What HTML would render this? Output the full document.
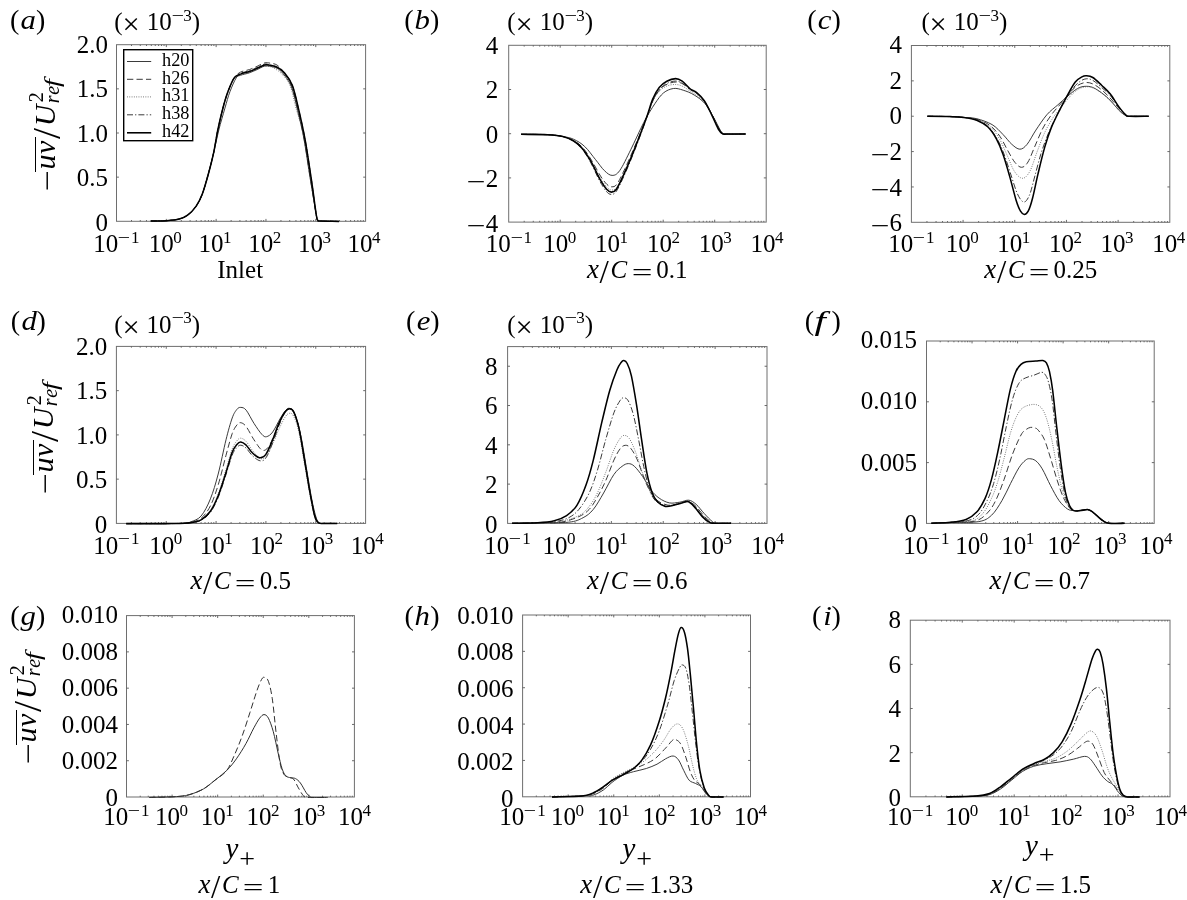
<!DOCTYPE html>
<html><head><meta charset="utf-8"><title>figure</title><style>
html,body{margin:0;padding:0;background:#fff}
body{width:1187px;height:900px;position:relative;overflow:hidden;font-family:"Liberation Serif",serif;color:#000}
svg{position:absolute;left:0;top:0}
#tx{position:absolute;left:0;top:0;width:1187px;height:900px;will-change:transform}
.t{position:absolute;white-space:nowrap;font-family:"Liberation Serif",serif}
.t i{font-style:italic}
.sp{font-size:17px;position:relative;top:-9.3px;line-height:0;margin-left:-0.5px}
.sm{display:inline-block;transform:scaleX(1.3);transform-origin:50% 50%;margin-left:1.4px}
.mn{display:inline-block;transform:scaleX(1.34);transform-origin:50% 50%;margin:0 2.7px 0 1.0px;position:relative;top:2.7px}
.tx{display:inline-block;transform:scale(1.22);transform-origin:50% 62%;margin:0 8.4px 0 1.6px;position:relative;top:3px}
.pl i{display:inline-block;transform:scaleX(1.1);transform-origin:100% 50%;margin:0 -0.1px 0 2.6px}
.pl-f i{transform:scaleX(1.45);transform-origin:5.66px 50%;margin:0 6.7px 0 3.05px}
.xx{font-size:27px;line-height:0;margin-left:0.3px}
.sl{font-size:33.5px;line-height:0;position:relative;top:5px;margin-left:0.6px}
.cc{margin-left:1.7px}
.eq{display:inline-block;transform:translateY(3.2px) scaleX(1.47);transform-origin:50% 50%;margin-left:7.4px;line-height:0}
.vv{margin-left:7.5px}
.yy{font-size:29px;line-height:0}
.pls{font-size:28px;line-height:0;position:relative;top:9.1px;margin-left:0.9px}
.yl{transform:rotate(-90deg);transform-origin:0 0}
.ymn{display:inline-block;transform:scaleX(1.27);transform-origin:50% 50%;position:relative;top:1.8px;margin-left:0.6px;margin-right:0.6px}
.ol{display:inline-block;width:34.6px;height:0;border-top:1.8px solid #000;vertical-align:19.5px;margin-right:-32.9px}
.uv{letter-spacing:0.3px;margin-left:0.8px}
.ysl{font-size:39.8px;line-height:0;position:relative;top:5.4px;margin-left:1.6px}
.UU{margin-left:1.5px}
.s2{font-size:20px;line-height:0;position:relative;top:-12px;margin-left:2.4px}
.sr{font-size:20px;line-height:0;position:relative;top:4px;margin-left:-10.9px}
.e1{margin-left:0.6px}
.f1{display:inline-block;transform:scaleX(1.4);transform-origin:0 50%;margin-left:-0.9px}
</style></head><body>
<svg width="1187" height="900" viewBox="0 0 1187 900">
<g>
<rect x="116.50" y="44.70" width="249.10" height="176.60" fill="none" stroke="#6e6e6e" stroke-width="1"/>
<path d="M131.50 221.30v-1.3M131.50 44.70v1.3M140.27 221.30v-1.3M140.27 44.70v1.3M146.49 221.30v-1.3M146.49 44.70v1.3M151.32 221.30v-1.3M151.32 44.70v1.3M155.27 221.30v-1.3M155.27 44.70v1.3M158.60 221.30v-1.3M158.60 44.70v1.3M161.49 221.30v-1.3M161.49 44.70v1.3M164.04 221.30v-1.3M164.04 44.70v1.3M166.32 221.30v-2.4M166.32 44.70v2.4M181.32 221.30v-1.3M181.32 44.70v1.3M190.09 221.30v-1.3M190.09 44.70v1.3M196.31 221.30v-1.3M196.31 44.70v1.3M201.14 221.30v-1.3M201.14 44.70v1.3M205.09 221.30v-1.3M205.09 44.70v1.3M208.42 221.30v-1.3M208.42 44.70v1.3M211.31 221.30v-1.3M211.31 44.70v1.3M213.86 221.30v-1.3M213.86 44.70v1.3M216.14 221.30v-2.4M216.14 44.70v2.4M231.14 221.30v-1.3M231.14 44.70v1.3M239.91 221.30v-1.3M239.91 44.70v1.3M246.13 221.30v-1.3M246.13 44.70v1.3M250.96 221.30v-1.3M250.96 44.70v1.3M254.91 221.30v-1.3M254.91 44.70v1.3M258.24 221.30v-1.3M258.24 44.70v1.3M261.13 221.30v-1.3M261.13 44.70v1.3M263.68 221.30v-1.3M263.68 44.70v1.3M265.96 221.30v-2.4M265.96 44.70v2.4M280.96 221.30v-1.3M280.96 44.70v1.3M289.73 221.30v-1.3M289.73 44.70v1.3M295.95 221.30v-1.3M295.95 44.70v1.3M300.78 221.30v-1.3M300.78 44.70v1.3M304.73 221.30v-1.3M304.73 44.70v1.3M308.06 221.30v-1.3M308.06 44.70v1.3M310.95 221.30v-1.3M310.95 44.70v1.3M313.50 221.30v-1.3M313.50 44.70v1.3M315.78 221.30v-2.4M315.78 44.70v2.4M330.78 221.30v-1.3M330.78 44.70v1.3M339.55 221.30v-1.3M339.55 44.70v1.3M345.77 221.30v-1.3M345.77 44.70v1.3M350.60 221.30v-1.3M350.60 44.70v1.3M354.55 221.30v-1.3M354.55 44.70v1.3M357.88 221.30v-1.3M357.88 44.70v1.3M360.77 221.30v-1.3M360.77 44.70v1.3M363.32 221.30v-1.3M363.32 44.70v1.3M116.50 177.15h2.4M365.60 177.15h-2.4M116.50 133.00h2.4M365.60 133.00h-2.4M116.50 88.85h2.4M365.60 88.85h-2.4" stroke="#5a5a5a" stroke-width="0.9" fill="none"/>
<path d="M150.8 221.1C153.4 221.0 161.8 221.0 166.5 220.7C171.2 220.3 175.7 219.9 179.2 219.0C182.7 218.1 184.8 217.3 187.6 215.2C190.4 213.1 193.5 210.0 196.0 206.4C198.5 202.8 200.3 199.3 202.4 193.7C204.5 188.1 206.8 179.7 208.7 172.7C210.6 165.7 212.2 158.7 213.9 151.6C215.6 144.5 217.0 137.2 218.8 130.0C220.6 122.8 223.1 114.6 224.9 108.2C226.8 101.8 228.0 96.8 229.9 91.8C231.8 86.8 234.4 80.7 236.2 77.9C238.0 75.2 238.3 76.2 240.5 75.3C242.7 74.4 246.7 73.8 249.4 72.8C252.2 71.8 254.5 70.7 257.0 69.6C259.5 68.5 262.3 66.6 264.6 66.1C266.9 65.6 268.8 66.1 270.9 66.5C273.0 66.9 275.2 67.2 277.2 68.4C279.2 69.6 280.8 70.7 283.1 73.7C285.5 76.7 288.9 80.4 291.3 86.6C293.7 92.8 295.6 102.0 297.7 110.8C299.8 119.6 301.9 127.8 304.0 139.2C306.1 150.6 308.2 166.6 310.3 179.2C312.4 191.8 315.1 208.2 316.3 215.0C317.6 221.8 317.1 219.2 317.8 220.2C318.5 221.2 316.8 220.9 320.3 221.1C323.8 221.3 335.9 221.3 339.0 221.4" fill="none" stroke="#303030" stroke-width="0.95" stroke-linejoin="round" stroke-linecap="butt"/>
<path d="M150.8 221.1C153.4 221.0 161.8 221.0 166.5 220.7C171.2 220.3 175.7 219.9 179.2 219.0C182.7 218.1 184.8 217.3 187.6 215.2C190.4 213.1 193.5 210.0 196.0 206.4C198.5 202.8 200.3 199.3 202.4 193.7C204.5 188.1 206.8 179.7 208.7 172.7C210.6 165.7 212.4 158.7 213.9 151.6C215.4 144.5 216.3 137.2 217.8 130.0C219.3 122.8 221.2 114.6 222.9 108.2C224.6 101.8 226.0 96.8 227.9 91.8C229.8 86.8 232.1 81.2 234.2 77.9C236.3 74.6 238.0 73.5 240.5 72.1C243.0 70.7 246.7 70.5 249.4 69.6C252.2 68.6 254.5 67.5 257.0 66.4C259.5 65.3 262.3 63.4 264.6 62.9C266.9 62.4 268.8 62.9 270.9 63.3C273.0 63.7 275.0 63.7 277.2 65.2C279.4 66.7 281.6 69.1 284.1 72.5C286.6 75.9 289.9 79.2 292.3 85.4C294.7 91.6 296.6 100.6 298.7 109.6C300.8 118.6 302.9 127.6 305.0 139.2C307.1 150.8 309.4 166.6 311.3 179.2C313.2 191.8 315.2 208.2 316.3 215.0C317.4 221.8 317.1 219.2 317.8 220.2C318.5 221.2 316.8 220.9 320.3 221.1C323.8 221.3 335.9 221.3 339.0 221.4" fill="none" stroke="#303030" stroke-width="0.95" stroke-dasharray="6.3 3.2" stroke-linejoin="round" stroke-linecap="butt"/>
<path d="M150.8 221.1C153.4 221.0 161.8 221.0 166.5 220.7C171.2 220.3 175.7 219.9 179.2 219.0C182.7 218.1 184.8 217.3 187.6 215.2C190.4 213.1 193.5 210.0 196.0 206.4C198.5 202.8 200.3 199.3 202.4 193.7C204.5 188.1 206.8 179.7 208.7 172.7C210.6 165.7 212.4 158.7 213.9 151.6C215.4 144.5 216.3 137.2 217.8 130.0C219.3 122.8 221.2 114.6 222.9 108.2C224.6 101.8 226.0 96.8 227.9 91.8C229.8 86.8 232.1 80.9 234.2 77.9C236.3 75.0 238.0 75.1 240.5 74.1C243.0 73.0 246.7 72.5 249.4 71.6C252.2 70.6 254.5 69.3 257.0 68.4C259.5 67.5 262.3 66.7 264.6 66.4C266.9 66.1 269.2 66.4 270.9 66.8C272.6 67.2 273.1 67.5 274.9 68.7C276.7 69.9 279.3 71.2 281.8 74.0C284.3 76.8 287.6 79.5 290.0 85.4C292.4 91.3 293.9 100.6 296.4 109.6C298.9 118.6 302.5 127.6 305.0 139.2C307.5 150.8 309.4 166.6 311.3 179.2C313.2 191.8 315.2 208.2 316.3 215.0C317.4 221.8 317.1 219.2 317.8 220.2C318.5 221.2 316.8 220.9 320.3 221.1C323.8 221.3 335.9 221.3 339.0 221.4" fill="none" stroke="#606060" stroke-width="0.9" stroke-dasharray="0.9 1.4" stroke-linejoin="round" stroke-linecap="butt"/>
<path d="M150.8 221.1C153.4 221.0 161.8 221.0 166.5 220.7C171.2 220.3 175.7 219.9 179.2 219.0C182.7 218.1 184.8 217.3 187.6 215.2C190.4 213.1 193.5 210.0 196.0 206.4C198.5 202.8 200.3 199.3 202.4 193.7C204.5 188.1 206.8 179.7 208.7 172.7C210.6 165.7 212.4 158.7 213.9 151.6C215.4 144.5 216.3 137.2 217.8 130.0C219.3 122.8 221.2 114.6 222.9 108.2C224.6 101.8 226.0 96.8 227.9 91.8C229.8 86.8 232.1 81.0 234.2 77.9C236.3 74.8 238.0 74.5 240.5 73.3C243.0 72.1 246.7 71.8 249.4 70.8C252.2 69.8 254.5 68.7 257.0 67.6C259.5 66.5 262.3 64.5 264.6 64.1C266.9 63.7 268.9 64.8 270.9 65.3C272.9 65.8 274.3 66.0 276.4 67.2C278.5 68.4 280.8 69.5 283.3 72.5C285.8 75.5 289.1 79.2 291.5 85.4C293.9 91.6 295.8 100.6 297.9 109.6C300.0 118.6 302.1 127.6 304.2 139.2C306.3 150.8 308.5 166.6 310.5 179.2C312.5 191.8 315.1 208.2 316.3 215.0C317.5 221.8 317.1 219.2 317.8 220.2C318.5 221.2 316.8 220.9 320.3 221.1C323.8 221.3 335.9 221.3 339.0 221.4" fill="none" stroke="#303030" stroke-width="0.95" stroke-dasharray="6 2.1 1.2 2.1" stroke-linejoin="round" stroke-linecap="butt"/>
<path d="M150.8 221.1C153.4 221.0 161.8 221.0 166.5 220.7C171.2 220.3 175.7 219.9 179.2 219.0C182.7 218.1 184.8 217.3 187.6 215.2C190.4 213.1 193.5 210.0 196.0 206.4C198.5 202.8 200.3 199.3 202.4 193.7C204.5 188.1 206.8 179.7 208.7 172.7C210.6 165.7 212.4 158.7 213.9 151.6C215.4 144.5 216.3 137.2 217.8 130.0C219.3 122.8 221.2 114.6 222.9 108.2C224.6 101.8 226.0 96.8 227.9 91.8C229.8 86.8 232.1 80.9 234.2 77.9C236.3 75.0 238.0 75.1 240.5 74.1C243.0 73.0 246.7 72.5 249.4 71.6C252.2 70.6 254.5 69.5 257.0 68.4C259.5 67.3 262.3 65.4 264.6 64.9C266.9 64.4 268.8 64.9 270.9 65.3C273.0 65.7 275.0 66.0 277.2 67.2C279.4 68.4 281.6 69.5 284.1 72.5C286.6 75.5 289.9 79.2 292.3 85.4C294.7 91.6 296.6 100.6 298.7 109.6C300.8 118.6 302.9 127.6 305.0 139.2C307.1 150.8 309.4 166.6 311.3 179.2C313.2 191.8 315.2 208.2 316.3 215.0C317.4 221.8 317.1 219.2 317.8 220.2C318.5 221.2 316.8 220.9 320.3 221.1C323.8 221.3 335.9 221.3 339.0 221.4" fill="none" stroke="#000" stroke-width="1.55" stroke-linejoin="round" stroke-linecap="butt"/>
</g>
<g>
<rect x="508.70" y="45.30" width="257.50" height="176.80" fill="none" stroke="#6e6e6e" stroke-width="1"/>
<path d="M524.20 222.10v-1.3M524.20 45.30v1.3M533.27 222.10v-1.3M533.27 45.30v1.3M539.71 222.10v-1.3M539.71 45.30v1.3M544.70 222.10v-1.3M544.70 45.30v1.3M548.77 222.10v-1.3M548.77 45.30v1.3M552.22 222.10v-1.3M552.22 45.30v1.3M555.21 222.10v-1.3M555.21 45.30v1.3M557.84 222.10v-1.3M557.84 45.30v1.3M560.20 222.10v-2.4M560.20 45.30v2.4M575.70 222.10v-1.3M575.70 45.30v1.3M584.77 222.10v-1.3M584.77 45.30v1.3M591.21 222.10v-1.3M591.21 45.30v1.3M596.20 222.10v-1.3M596.20 45.30v1.3M600.27 222.10v-1.3M600.27 45.30v1.3M603.72 222.10v-1.3M603.72 45.30v1.3M606.71 222.10v-1.3M606.71 45.30v1.3M609.34 222.10v-1.3M609.34 45.30v1.3M611.70 222.10v-2.4M611.70 45.30v2.4M627.20 222.10v-1.3M627.20 45.30v1.3M636.27 222.10v-1.3M636.27 45.30v1.3M642.71 222.10v-1.3M642.71 45.30v1.3M647.70 222.10v-1.3M647.70 45.30v1.3M651.77 222.10v-1.3M651.77 45.30v1.3M655.22 222.10v-1.3M655.22 45.30v1.3M658.21 222.10v-1.3M658.21 45.30v1.3M660.84 222.10v-1.3M660.84 45.30v1.3M663.20 222.10v-2.4M663.20 45.30v2.4M678.70 222.10v-1.3M678.70 45.30v1.3M687.77 222.10v-1.3M687.77 45.30v1.3M694.21 222.10v-1.3M694.21 45.30v1.3M699.20 222.10v-1.3M699.20 45.30v1.3M703.27 222.10v-1.3M703.27 45.30v1.3M706.72 222.10v-1.3M706.72 45.30v1.3M709.71 222.10v-1.3M709.71 45.30v1.3M712.34 222.10v-1.3M712.34 45.30v1.3M714.70 222.10v-2.4M714.70 45.30v2.4M730.20 222.10v-1.3M730.20 45.30v1.3M739.27 222.10v-1.3M739.27 45.30v1.3M745.71 222.10v-1.3M745.71 45.30v1.3M750.70 222.10v-1.3M750.70 45.30v1.3M754.77 222.10v-1.3M754.77 45.30v1.3M758.22 222.10v-1.3M758.22 45.30v1.3M761.21 222.10v-1.3M761.21 45.30v1.3M763.84 222.10v-1.3M763.84 45.30v1.3M508.70 177.90h2.4M766.20 177.90h-2.4M508.70 133.70h2.4M766.20 133.70h-2.4M508.70 89.50h2.4M766.20 89.50h-2.4" stroke="#5a5a5a" stroke-width="0.9" fill="none"/>
<path d="M521.1 134.3C525.5 134.4 540.5 134.3 547.4 134.7C554.3 135.1 558.4 135.7 562.8 136.5C567.2 137.3 570.1 137.6 573.7 139.3C577.4 141.0 581.1 143.1 584.7 146.5C588.4 149.9 592.3 155.7 595.6 159.7C598.9 163.7 601.6 168.0 604.4 170.6C607.1 173.2 609.5 175.4 612.1 175.4C614.7 175.4 616.6 174.9 619.7 170.6C622.8 166.3 626.7 157.8 630.7 149.8C634.7 141.8 639.8 130.1 643.8 122.4C647.8 114.7 651.5 108.7 654.8 103.8C658.1 98.9 660.4 95.5 663.5 92.9C666.6 90.4 670.1 89.0 673.4 88.5C676.7 88.0 679.7 89.1 683.2 90.2C686.7 91.3 690.5 92.7 694.2 95.0C697.9 97.3 701.9 100.0 705.2 103.8C708.5 107.6 711.2 113.2 713.9 118.0C716.6 122.8 719.7 129.6 721.6 132.3C723.5 135.0 721.5 133.7 725.5 134.0C729.5 134.3 742.3 134.0 745.7 134.0" fill="none" stroke="#303030" stroke-width="0.95" stroke-linejoin="round" stroke-linecap="butt"/>
<path d="M521.1 134.3C525.5 134.4 540.5 134.3 547.4 134.7C554.3 135.1 558.4 135.5 562.8 136.5C567.2 137.5 570.3 138.7 573.7 140.6C577.1 142.5 580.0 144.6 583.0 148.0C586.0 151.4 589.1 156.3 592.0 161.0C594.9 165.7 598.0 172.1 600.5 176.0C603.0 179.9 605.1 182.7 607.0 184.5C608.9 186.3 610.1 186.9 611.8 186.8C613.5 186.7 614.8 187.1 617.0 184.0C619.2 180.9 621.8 175.2 625.0 168.5C628.2 161.8 632.4 152.0 636.0 143.5C639.6 135.0 643.6 124.8 646.5 117.5C649.4 110.2 651.2 104.3 653.5 99.5C655.8 94.7 658.1 91.4 660.5 88.8C662.9 86.2 665.4 84.9 668.0 83.8C670.6 82.7 673.5 82.0 676.0 82.0C678.5 82.0 680.6 82.7 683.0 84.0C685.4 85.3 688.1 88.1 690.5 89.8C692.9 91.5 695.1 92.0 697.5 94.0C699.9 96.0 702.5 98.3 705.0 102.0C707.5 105.7 710.1 111.3 712.5 116.0C714.9 120.7 717.6 127.0 719.5 130.0C721.4 133.0 719.6 133.3 724.0 134.0C728.4 134.7 742.1 134.0 745.7 134.0" fill="none" stroke="#303030" stroke-width="0.95" stroke-dasharray="6.3 3.2" stroke-linejoin="round" stroke-linecap="butt"/>
<path d="M521.1 134.3C525.5 134.4 540.5 134.3 547.4 134.7C554.3 135.1 558.4 135.5 562.8 136.5C567.2 137.5 570.4 138.8 573.7 140.8C577.0 142.8 579.8 145.0 582.8 148.5C585.8 152.0 588.7 156.9 591.6 161.8C594.5 166.7 597.7 173.8 600.2 178.0C602.7 182.2 604.9 185.2 606.8 187.2C608.7 189.2 609.9 190.0 611.6 190.0C613.3 190.0 614.6 190.3 616.8 187.2C619.0 184.1 621.5 178.4 624.6 171.5C627.7 164.6 632.0 154.3 635.6 145.5C639.2 136.7 643.4 126.0 646.3 118.5C649.2 111.0 650.9 105.2 653.2 100.5C655.5 95.8 657.6 93.0 660.0 90.5C662.4 88.0 664.9 86.8 667.5 85.8C670.1 84.8 673.2 84.4 675.8 84.5C678.4 84.6 680.5 85.3 683.0 86.5C685.5 87.7 688.1 90.0 690.5 91.5C692.9 93.0 695.0 93.7 697.5 95.8C700.0 97.9 702.8 100.3 705.5 104.0C708.2 107.7 711.0 113.5 713.5 118.0C716.0 122.5 718.6 128.3 720.5 131.0C722.4 133.7 720.6 133.5 724.8 134.0C729.0 134.5 742.2 134.0 745.7 134.0" fill="none" stroke="#606060" stroke-width="0.9" stroke-dasharray="0.9 1.4" stroke-linejoin="round" stroke-linecap="butt"/>
<path d="M521.1 134.3C525.5 134.4 540.5 134.3 547.4 134.7C554.3 135.1 558.4 135.4 562.8 136.5C567.1 137.6 570.3 139.1 573.5 141.2C576.7 143.3 579.3 145.6 582.2 149.2C585.1 152.8 587.9 157.5 590.8 162.8C593.7 168.1 597.0 176.1 599.6 180.8C602.2 185.5 604.3 188.9 606.2 191.2C608.1 193.5 609.5 194.4 611.2 194.4C612.9 194.4 614.3 194.3 616.4 191.2C618.5 188.1 620.9 182.9 624.0 176.0C627.1 169.1 631.4 158.8 635.0 149.5C638.6 140.2 642.9 128.6 645.8 120.5C648.7 112.4 650.3 106.2 652.6 101.0C654.9 95.8 657.0 92.5 659.4 89.6C661.8 86.7 664.3 84.8 667.0 83.4C669.7 82.0 673.0 81.0 675.6 81.0C678.2 81.0 680.0 81.8 682.4 83.2C684.8 84.6 687.6 87.7 690.0 89.4C692.4 91.1 694.3 91.1 696.8 93.2C699.3 95.3 702.1 97.9 704.8 101.8C707.5 105.7 710.4 111.7 713.0 116.5C715.6 121.3 718.2 127.6 720.2 130.5C722.2 133.4 720.5 133.4 724.8 134.0C729.0 134.6 742.2 134.0 745.7 134.0" fill="none" stroke="#303030" stroke-width="0.95" stroke-dasharray="6 2.1 1.2 2.1" stroke-linejoin="round" stroke-linecap="butt"/>
<path d="M521.1 134.3C525.5 134.4 540.5 134.3 547.4 134.7C554.3 135.1 558.4 135.4 562.8 136.5C567.2 137.6 570.4 139.0 573.7 141.0C577.0 143.0 579.6 145.2 582.5 148.7C585.4 152.2 588.3 156.8 591.2 161.9C594.1 167.0 597.4 174.9 600.0 179.4C602.6 183.9 604.7 187.1 606.6 189.2C608.5 191.3 609.8 192.1 611.4 192.1C613.0 192.1 614.3 192.2 616.4 189.2C618.5 186.2 621.0 180.8 624.1 173.9C627.2 167.0 631.5 156.7 635.1 147.6C638.8 138.5 643.1 127.1 646.0 119.1C648.9 111.1 650.4 104.7 652.6 99.4C654.8 94.1 656.8 90.4 659.2 87.4C661.6 84.4 664.1 82.7 666.8 81.2C669.5 79.7 673.0 78.6 675.6 78.6C678.2 78.6 679.8 79.5 682.2 81.2C684.6 82.9 687.4 86.6 689.8 88.5C692.2 90.4 694.0 90.4 696.4 92.4C698.8 94.4 701.5 96.8 704.1 100.5C706.7 104.2 709.3 110.0 711.7 114.8C714.1 119.5 716.5 125.8 718.3 129.0C720.1 132.2 721.2 133.0 722.7 133.8C724.2 134.6 723.2 134.0 727.0 134.0C730.8 134.0 742.6 134.0 745.7 134.0" fill="none" stroke="#000" stroke-width="1.55" stroke-linejoin="round" stroke-linecap="butt"/>
</g>
<g>
<rect x="911.40" y="45.50" width="258.40" height="176.80" fill="none" stroke="#6e6e6e" stroke-width="1"/>
<path d="M926.96 222.30v-1.3M926.96 45.50v1.3M936.06 222.30v-1.3M936.06 45.50v1.3M942.51 222.30v-1.3M942.51 45.50v1.3M947.52 222.30v-1.3M947.52 45.50v1.3M951.61 222.30v-1.3M951.61 45.50v1.3M955.07 222.30v-1.3M955.07 45.50v1.3M958.07 222.30v-1.3M958.07 45.50v1.3M960.72 222.30v-1.3M960.72 45.50v1.3M963.08 222.30v-2.4M963.08 45.50v2.4M978.64 222.30v-1.3M978.64 45.50v1.3M987.74 222.30v-1.3M987.74 45.50v1.3M994.19 222.30v-1.3M994.19 45.50v1.3M999.20 222.30v-1.3M999.20 45.50v1.3M1003.29 222.30v-1.3M1003.29 45.50v1.3M1006.75 222.30v-1.3M1006.75 45.50v1.3M1009.75 222.30v-1.3M1009.75 45.50v1.3M1012.40 222.30v-1.3M1012.40 45.50v1.3M1014.76 222.30v-2.4M1014.76 45.50v2.4M1030.32 222.30v-1.3M1030.32 45.50v1.3M1039.42 222.30v-1.3M1039.42 45.50v1.3M1045.87 222.30v-1.3M1045.87 45.50v1.3M1050.88 222.30v-1.3M1050.88 45.50v1.3M1054.97 222.30v-1.3M1054.97 45.50v1.3M1058.43 222.30v-1.3M1058.43 45.50v1.3M1061.43 222.30v-1.3M1061.43 45.50v1.3M1064.08 222.30v-1.3M1064.08 45.50v1.3M1066.44 222.30v-2.4M1066.44 45.50v2.4M1082.00 222.30v-1.3M1082.00 45.50v1.3M1091.10 222.30v-1.3M1091.10 45.50v1.3M1097.55 222.30v-1.3M1097.55 45.50v1.3M1102.56 222.30v-1.3M1102.56 45.50v1.3M1106.65 222.30v-1.3M1106.65 45.50v1.3M1110.11 222.30v-1.3M1110.11 45.50v1.3M1113.11 222.30v-1.3M1113.11 45.50v1.3M1115.76 222.30v-1.3M1115.76 45.50v1.3M1118.12 222.30v-2.4M1118.12 45.50v2.4M1133.68 222.30v-1.3M1133.68 45.50v1.3M1142.78 222.30v-1.3M1142.78 45.50v1.3M1149.23 222.30v-1.3M1149.23 45.50v1.3M1154.24 222.30v-1.3M1154.24 45.50v1.3M1158.33 222.30v-1.3M1158.33 45.50v1.3M1161.79 222.30v-1.3M1161.79 45.50v1.3M1164.79 222.30v-1.3M1164.79 45.50v1.3M1167.44 222.30v-1.3M1167.44 45.50v1.3M911.40 186.94h2.4M1169.80 186.94h-2.4M911.40 151.58h2.4M1169.80 151.58h-2.4M911.40 116.22h2.4M1169.80 116.22h-2.4M911.40 80.86h2.4M1169.80 80.86h-2.4" stroke="#5a5a5a" stroke-width="0.9" fill="none"/>
<path d="M927.4 116.3C931.2 116.3 944.0 116.4 950.0 116.6C956.0 116.8 959.1 117.1 963.6 117.4C968.1 117.8 972.0 117.5 976.7 118.7C981.5 119.9 987.7 122.0 992.1 124.6C996.5 127.2 999.7 131.2 1003.0 134.5C1006.3 137.8 1009.0 141.9 1011.8 144.3C1014.6 146.8 1017.4 149.2 1019.9 149.2C1022.4 149.2 1024.4 147.5 1027.1 144.3C1029.8 141.1 1032.6 135.0 1035.9 130.1C1039.2 125.2 1043.2 119.0 1046.8 114.8C1050.4 110.6 1054.5 107.8 1057.8 104.9C1061.1 102.0 1063.2 99.9 1066.5 97.2C1069.8 94.5 1074.2 90.3 1077.5 88.5C1080.8 86.7 1083.3 86.3 1086.2 86.3C1089.1 86.3 1091.3 86.5 1095.0 88.5C1098.7 90.5 1104.2 94.6 1108.2 98.3C1112.2 102.0 1116.2 107.5 1119.1 110.4C1122.0 113.3 1124.0 114.6 1125.7 115.6C1127.4 116.6 1125.7 116.2 1129.5 116.3C1133.3 116.4 1145.5 116.3 1148.7 116.3" fill="none" stroke="#303030" stroke-width="0.95" stroke-linejoin="round" stroke-linecap="butt"/>
<path d="M927.4 116.3C931.2 116.3 944.0 116.4 950.0 116.6C956.0 116.8 959.1 117.0 963.6 117.4C968.1 117.8 972.3 117.9 976.7 119.2C981.1 120.5 986.1 122.6 990.0 125.5C993.9 128.4 997.0 132.2 1000.0 136.5C1003.0 140.8 1005.5 146.7 1008.0 151.0C1010.5 155.3 1012.7 159.8 1015.0 162.5C1017.3 165.2 1019.4 167.4 1021.6 167.3C1023.8 167.2 1025.8 165.6 1028.0 162.0C1030.2 158.4 1032.5 151.7 1035.0 146.0C1037.5 140.3 1040.2 133.3 1043.0 128.0C1045.8 122.7 1049.0 118.1 1052.0 114.0C1055.0 109.9 1058.1 107.0 1061.0 103.5C1063.9 100.0 1066.8 96.0 1069.5 93.0C1072.2 90.0 1074.8 87.2 1077.5 85.5C1080.2 83.8 1083.2 82.7 1086.0 82.5C1088.8 82.3 1091.2 83.1 1094.0 84.5C1096.8 85.9 1100.2 88.6 1103.0 91.0C1105.8 93.4 1108.2 96.0 1111.0 99.0C1113.8 102.0 1117.0 106.3 1119.5 109.0C1122.0 111.7 1124.3 114.0 1126.0 115.2C1127.7 116.4 1125.7 116.1 1129.5 116.3C1133.3 116.5 1145.5 116.3 1148.7 116.3" fill="none" stroke="#303030" stroke-width="0.95" stroke-dasharray="6.3 3.2" stroke-linejoin="round" stroke-linecap="butt"/>
<path d="M927.4 116.3C931.2 116.3 944.0 116.4 950.0 116.6C956.0 116.8 959.1 116.9 963.6 117.4C968.1 117.9 972.4 118.1 976.7 119.5C981.0 120.9 985.8 122.9 989.5 126.0C993.2 129.1 996.1 133.2 999.0 138.0C1001.9 142.8 1004.4 149.4 1007.0 155.0C1009.6 160.6 1011.9 167.6 1014.5 171.5C1017.1 175.4 1020.1 178.4 1022.7 178.3C1025.3 178.2 1027.6 175.4 1030.0 171.0C1032.4 166.6 1034.6 158.3 1037.0 152.0C1039.4 145.7 1041.9 138.6 1044.5 133.0C1047.1 127.4 1049.8 122.8 1052.5 118.5C1055.2 114.2 1058.2 111.1 1061.0 107.5C1063.8 103.9 1066.7 100.0 1069.5 97.0C1072.3 94.0 1075.2 91.2 1078.0 89.5C1080.8 87.8 1083.7 86.9 1086.5 86.8C1089.3 86.7 1092.1 87.4 1095.0 88.8C1097.9 90.2 1101.2 92.7 1104.0 95.0C1106.8 97.3 1109.3 99.8 1112.0 102.5C1114.7 105.2 1117.7 109.3 1120.0 111.5C1122.3 113.7 1124.4 115.0 1126.0 115.8C1127.6 116.6 1125.7 116.2 1129.5 116.3C1133.3 116.4 1145.5 116.3 1148.7 116.3" fill="none" stroke="#606060" stroke-width="0.9" stroke-dasharray="0.9 1.4" stroke-linejoin="round" stroke-linecap="butt"/>
<path d="M927.4 116.3C931.2 116.3 944.0 116.4 950.0 116.6C956.0 116.8 959.1 116.8 963.6 117.4C968.1 118.0 972.6 118.5 976.7 120.0C980.8 121.5 984.6 123.4 988.0 126.5C991.4 129.6 994.3 133.9 997.0 138.5C999.7 143.1 1001.7 147.9 1004.0 154.0C1006.3 160.1 1008.8 168.3 1011.0 175.0C1013.2 181.7 1015.4 189.5 1017.5 194.0C1019.6 198.5 1021.8 201.8 1023.8 202.0C1025.8 202.2 1027.6 199.4 1029.5 195.0C1031.4 190.6 1033.0 182.7 1035.0 175.5C1037.0 168.3 1039.2 159.1 1041.5 152.0C1043.8 144.9 1046.1 138.8 1048.5 133.0C1050.9 127.2 1053.4 122.2 1056.0 117.0C1058.6 111.8 1061.3 106.6 1064.0 102.0C1066.7 97.4 1069.4 92.9 1072.0 89.5C1074.6 86.1 1077.1 83.6 1079.5 81.8C1081.9 80.0 1084.0 79.0 1086.2 78.8C1088.5 78.6 1090.4 79.0 1093.0 80.5C1095.6 82.0 1099.1 85.2 1102.0 87.8C1104.9 90.3 1107.6 92.4 1110.5 95.8C1113.4 99.2 1116.7 104.8 1119.2 108.0C1121.8 111.2 1124.1 113.6 1125.8 115.0C1127.5 116.4 1125.7 116.1 1129.5 116.3C1133.3 116.5 1145.5 116.3 1148.7 116.3" fill="none" stroke="#303030" stroke-width="0.95" stroke-dasharray="6 2.1 1.2 2.1" stroke-linejoin="round" stroke-linecap="butt"/>
<path d="M927.4 116.3C931.2 116.3 944.0 116.4 950.0 116.6C956.0 116.8 959.1 116.8 963.6 117.4C968.1 118.0 972.7 118.6 976.7 120.2C980.7 121.8 984.4 123.7 987.7 126.8C991.0 129.9 993.9 134.3 996.4 138.9C998.9 143.5 1000.8 148.0 1003.0 154.2C1005.2 160.4 1007.4 168.4 1009.6 176.1C1011.8 183.8 1014.3 194.3 1016.1 200.2C1017.9 206.0 1019.1 208.8 1020.5 211.2C1021.9 213.6 1023.0 214.4 1024.3 214.4C1025.6 214.4 1026.8 213.9 1028.2 211.2C1029.6 208.5 1031.0 204.2 1032.6 198.0C1034.2 191.8 1036.0 182.3 1038.0 173.9C1040.0 165.5 1042.4 155.3 1044.6 147.6C1046.8 139.9 1048.6 134.3 1051.2 127.9C1053.8 121.5 1057.1 115.1 1060.0 109.3C1062.9 103.5 1066.2 97.5 1068.7 92.9C1071.2 88.3 1073.1 84.6 1075.3 81.9C1077.5 79.2 1080.1 77.9 1081.9 76.9C1083.7 75.9 1084.4 75.7 1086.2 75.8C1088.0 75.9 1090.2 75.9 1092.8 77.5C1095.4 79.1 1098.7 82.5 1101.6 85.2C1104.5 88.0 1107.4 90.3 1110.3 94.0C1113.2 97.7 1116.5 103.6 1119.1 107.1C1121.7 110.6 1124.0 113.3 1125.7 114.8C1127.4 116.3 1125.7 116.0 1129.5 116.3C1133.3 116.5 1145.5 116.3 1148.7 116.3" fill="none" stroke="#000" stroke-width="1.55" stroke-linejoin="round" stroke-linecap="butt"/>
</g>
<g>
<rect x="116.40" y="346.40" width="249.20" height="177.00" fill="none" stroke="#6e6e6e" stroke-width="1"/>
<path d="M131.40 523.40v-1.3M131.40 346.40v1.3M140.18 523.40v-1.3M140.18 346.40v1.3M146.41 523.40v-1.3M146.41 346.40v1.3M151.24 523.40v-1.3M151.24 346.40v1.3M155.18 523.40v-1.3M155.18 346.40v1.3M158.52 523.40v-1.3M158.52 346.40v1.3M161.41 523.40v-1.3M161.41 346.40v1.3M163.96 523.40v-1.3M163.96 346.40v1.3M166.24 523.40v-2.4M166.24 346.40v2.4M181.24 523.40v-1.3M181.24 346.40v1.3M190.02 523.40v-1.3M190.02 346.40v1.3M196.25 523.40v-1.3M196.25 346.40v1.3M201.08 523.40v-1.3M201.08 346.40v1.3M205.02 523.40v-1.3M205.02 346.40v1.3M208.36 523.40v-1.3M208.36 346.40v1.3M211.25 523.40v-1.3M211.25 346.40v1.3M213.80 523.40v-1.3M213.80 346.40v1.3M216.08 523.40v-2.4M216.08 346.40v2.4M231.08 523.40v-1.3M231.08 346.40v1.3M239.86 523.40v-1.3M239.86 346.40v1.3M246.09 523.40v-1.3M246.09 346.40v1.3M250.92 523.40v-1.3M250.92 346.40v1.3M254.86 523.40v-1.3M254.86 346.40v1.3M258.20 523.40v-1.3M258.20 346.40v1.3M261.09 523.40v-1.3M261.09 346.40v1.3M263.64 523.40v-1.3M263.64 346.40v1.3M265.92 523.40v-2.4M265.92 346.40v2.4M280.92 523.40v-1.3M280.92 346.40v1.3M289.70 523.40v-1.3M289.70 346.40v1.3M295.93 523.40v-1.3M295.93 346.40v1.3M300.76 523.40v-1.3M300.76 346.40v1.3M304.70 523.40v-1.3M304.70 346.40v1.3M308.04 523.40v-1.3M308.04 346.40v1.3M310.93 523.40v-1.3M310.93 346.40v1.3M313.48 523.40v-1.3M313.48 346.40v1.3M315.76 523.40v-2.4M315.76 346.40v2.4M330.76 523.40v-1.3M330.76 346.40v1.3M339.54 523.40v-1.3M339.54 346.40v1.3M345.77 523.40v-1.3M345.77 346.40v1.3M350.60 523.40v-1.3M350.60 346.40v1.3M354.54 523.40v-1.3M354.54 346.40v1.3M357.88 523.40v-1.3M357.88 346.40v1.3M360.77 523.40v-1.3M360.77 346.40v1.3M363.32 523.40v-1.3M363.32 346.40v1.3M116.40 479.15h2.4M365.60 479.15h-2.4M116.40 434.90h2.4M365.60 434.90h-2.4M116.40 390.65h2.4M365.60 390.65h-2.4" stroke="#5a5a5a" stroke-width="0.9" fill="none"/>
<path d="M126.2 523.6C130.2 523.6 142.7 523.6 150.0 523.6C157.3 523.6 164.2 523.7 170.0 523.6C175.8 523.5 181.5 523.5 185.0 523.2C188.5 522.9 188.3 523.0 191.0 521.8C193.7 520.6 197.9 519.8 201.1 516.0C204.3 512.2 207.6 505.9 210.4 498.9C213.2 491.9 215.6 483.9 218.2 474.0C220.8 464.1 223.7 449.1 226.0 439.8C228.3 430.5 230.4 423.1 232.2 418.0C234.0 412.9 235.5 411.2 236.9 409.4C238.3 407.6 239.2 407.3 240.8 407.4C242.4 407.5 244.0 407.5 246.2 410.2C248.4 412.9 251.4 419.4 254.0 423.4C256.6 427.4 259.7 432.1 261.8 434.3C263.9 436.5 264.7 437.1 266.5 436.7C268.3 436.3 270.4 435.1 272.7 432.0C275.0 428.9 278.3 421.6 280.5 418.0C282.7 414.4 284.3 411.8 285.9 410.2C287.4 408.6 288.4 407.9 289.8 408.4C291.2 408.9 292.7 408.9 294.5 413.3C296.3 417.8 298.6 425.5 300.7 435.1C302.8 444.7 305.0 459.8 306.9 470.9C308.8 482.0 310.6 493.8 312.3 502.0C314.0 510.2 315.6 516.4 317.0 519.9C318.4 523.4 319.2 522.6 320.5 523.2C321.8 523.8 322.2 523.4 325.0 523.4C327.8 523.4 335.2 523.4 337.2 523.4" fill="none" stroke="#303030" stroke-width="0.95" stroke-linejoin="round" stroke-linecap="butt"/>
<path d="M126.2 523.6C130.2 523.6 142.7 523.6 150.0 523.6C157.3 523.6 164.2 523.7 170.0 523.6C175.8 523.5 181.3 523.5 185.0 523.2C188.7 522.9 189.3 522.8 192.0 522.0C194.7 521.2 198.0 521.0 201.1 518.3C204.2 515.6 207.6 511.5 210.4 505.9C213.2 500.3 215.6 493.3 218.2 484.9C220.8 476.5 223.7 463.9 226.0 455.3C228.3 446.8 230.4 438.7 232.2 433.6C234.0 428.6 235.5 426.8 236.9 425.0C238.3 423.2 239.2 422.4 240.8 422.7C242.4 423.0 244.0 423.8 246.2 426.6C248.4 429.5 251.4 435.9 254.0 439.8C256.6 443.7 259.5 448.6 261.8 449.9C264.1 451.2 265.9 450.1 268.0 447.6C270.1 445.1 272.1 439.7 274.2 435.1C276.3 430.6 278.6 424.2 280.5 420.3C282.4 416.4 284.0 413.4 285.5 411.5C287.0 409.6 288.2 408.6 289.6 408.7C291.0 408.8 292.3 408.7 294.0 412.3C295.7 415.9 297.6 421.5 299.6 430.5C301.6 439.5 303.9 455.6 305.8 466.5C307.7 477.4 309.2 487.5 310.8 496.0C312.4 504.5 314.1 513.0 315.5 517.5C316.9 522.0 317.7 522.0 319.3 523.0C320.9 524.0 322.0 523.3 325.0 523.4C328.0 523.5 335.2 523.4 337.2 523.4" fill="none" stroke="#303030" stroke-width="0.95" stroke-dasharray="6.3 3.2" stroke-linejoin="round" stroke-linecap="butt"/>
<path d="M126.2 523.6C130.2 523.6 142.7 523.6 150.0 523.6C157.3 523.6 164.2 523.7 170.0 523.6C175.8 523.5 181.2 523.4 185.0 523.2C188.8 523.0 190.3 522.8 193.0 522.2C195.7 521.6 198.2 521.6 201.1 519.6C204.0 517.6 207.6 514.8 210.4 510.5C213.2 506.2 215.6 500.8 218.2 494.0C220.8 487.2 223.7 477.0 226.0 469.5C228.3 462.0 230.4 453.8 232.2 449.0C234.0 444.2 235.5 442.6 236.9 440.8C238.3 439.0 239.2 438.1 240.8 438.2C242.4 438.3 244.2 439.4 246.2 441.5C248.1 443.6 250.2 447.7 252.5 450.5C254.8 453.3 257.9 457.6 260.2 458.5C262.5 459.4 264.4 458.6 266.5 456.0C268.6 453.4 270.8 447.7 273.0 443.0C275.2 438.3 277.4 432.4 279.5 428.0C281.6 423.6 283.8 418.9 285.5 416.5C287.2 414.1 288.2 413.4 289.5 413.3C290.8 413.2 291.9 412.9 293.5 416.0C295.1 419.1 296.9 423.6 298.8 432.0C300.7 440.4 303.2 456.2 305.0 466.5C306.8 476.8 308.2 485.7 309.8 494.0C311.4 502.3 313.1 511.7 314.5 516.5C315.9 521.3 316.6 521.6 318.4 522.8C320.1 523.9 321.9 523.3 325.0 523.4C328.1 523.5 335.2 523.4 337.2 523.4" fill="none" stroke="#606060" stroke-width="0.9" stroke-dasharray="0.9 1.4" stroke-linejoin="round" stroke-linecap="butt"/>
<path d="M126.2 523.6C130.2 523.6 142.7 523.6 150.0 523.6C157.3 523.6 164.2 523.7 170.0 523.6C175.8 523.5 181.2 523.4 185.0 523.2C188.8 523.0 190.3 522.8 193.0 522.3C195.7 521.8 198.2 521.9 201.1 520.2C204.0 518.5 207.6 516.1 210.4 512.3C213.2 508.5 215.6 503.8 218.2 497.5C220.8 491.2 223.7 481.6 226.0 474.5C228.3 467.4 230.4 459.5 232.2 455.0C234.0 450.5 235.5 449.1 236.9 447.5C238.3 445.9 239.2 445.1 240.8 445.2C242.4 445.3 244.2 446.4 246.2 448.2C248.1 450.0 250.2 453.7 252.5 455.8C254.8 457.9 257.9 460.5 260.2 460.8C262.5 461.1 264.1 460.6 266.2 457.5C268.3 454.4 270.8 447.4 273.0 442.0C275.2 436.6 277.2 429.9 279.2 425.0C281.2 420.1 283.5 415.1 285.2 412.5C286.9 409.9 288.1 409.2 289.5 409.2C290.9 409.2 292.1 408.9 293.7 412.3C295.3 415.7 297.2 420.7 299.1 429.5C301.0 438.3 303.5 454.6 305.3 465.2C307.1 475.8 308.4 484.5 310.0 493.0C311.6 501.5 313.3 511.2 314.7 516.2C316.1 521.2 316.9 521.6 318.6 522.8C320.3 524.0 321.9 523.3 325.0 523.4C328.1 523.5 335.2 523.4 337.2 523.4" fill="none" stroke="#303030" stroke-width="0.95" stroke-dasharray="6 2.1 1.2 2.1" stroke-linejoin="round" stroke-linecap="butt"/>
<path d="M126.2 523.6C130.2 523.6 142.7 523.6 150.0 523.6C157.3 523.6 164.2 523.7 170.0 523.6C175.8 523.5 181.2 523.4 185.0 523.2C188.8 523.0 190.3 522.8 193.0 522.2C195.7 521.7 198.2 521.7 201.1 519.9C204.0 518.1 207.6 515.3 210.4 511.3C213.2 507.3 215.6 502.3 218.2 495.8C220.8 489.3 223.7 479.8 226.0 472.5C228.3 465.2 230.4 456.9 232.2 452.2C234.0 447.5 235.5 446.2 236.9 444.5C238.3 442.8 239.2 442.0 240.8 442.1C242.4 442.2 244.2 443.4 246.2 445.2C248.1 447.0 250.3 450.9 252.5 453.0C254.7 455.1 257.3 457.4 259.5 457.7C261.7 458.0 263.5 457.6 265.7 454.6C267.9 451.6 270.5 445.0 272.7 439.8C274.9 434.6 276.8 428.1 278.9 423.4C281.0 418.7 283.3 414.2 285.1 411.8C286.9 409.4 288.1 408.7 289.5 408.7C290.9 408.7 292.1 408.4 293.7 411.8C295.3 415.2 297.2 420.1 299.1 428.9C301.0 437.7 303.5 454.1 305.3 464.7C307.1 475.3 308.4 484.1 310.0 492.7C311.6 501.2 313.3 511.0 314.7 516.0C316.1 521.0 316.9 521.6 318.6 522.8C320.3 524.0 321.9 523.3 325.0 523.4C328.1 523.5 335.2 523.4 337.2 523.4" fill="none" stroke="#000" stroke-width="1.55" stroke-linejoin="round" stroke-linecap="butt"/>
</g>
<g>
<rect x="507.60" y="346.60" width="259.40" height="176.80" fill="none" stroke="#6e6e6e" stroke-width="1"/>
<path d="M523.22 523.40v-1.3M523.22 346.60v1.3M532.35 523.40v-1.3M532.35 346.60v1.3M538.83 523.40v-1.3M538.83 346.60v1.3M543.86 523.40v-1.3M543.86 346.60v1.3M547.97 523.40v-1.3M547.97 346.60v1.3M551.44 523.40v-1.3M551.44 346.60v1.3M554.45 523.40v-1.3M554.45 346.60v1.3M557.11 523.40v-1.3M557.11 346.60v1.3M559.48 523.40v-2.4M559.48 346.60v2.4M575.10 523.40v-1.3M575.10 346.60v1.3M584.23 523.40v-1.3M584.23 346.60v1.3M590.71 523.40v-1.3M590.71 346.60v1.3M595.74 523.40v-1.3M595.74 346.60v1.3M599.85 523.40v-1.3M599.85 346.60v1.3M603.32 523.40v-1.3M603.32 346.60v1.3M606.33 523.40v-1.3M606.33 346.60v1.3M608.99 523.40v-1.3M608.99 346.60v1.3M611.36 523.40v-2.4M611.36 346.60v2.4M626.98 523.40v-1.3M626.98 346.60v1.3M636.11 523.40v-1.3M636.11 346.60v1.3M642.59 523.40v-1.3M642.59 346.60v1.3M647.62 523.40v-1.3M647.62 346.60v1.3M651.73 523.40v-1.3M651.73 346.60v1.3M655.20 523.40v-1.3M655.20 346.60v1.3M658.21 523.40v-1.3M658.21 346.60v1.3M660.87 523.40v-1.3M660.87 346.60v1.3M663.24 523.40v-2.4M663.24 346.60v2.4M678.86 523.40v-1.3M678.86 346.60v1.3M687.99 523.40v-1.3M687.99 346.60v1.3M694.47 523.40v-1.3M694.47 346.60v1.3M699.50 523.40v-1.3M699.50 346.60v1.3M703.61 523.40v-1.3M703.61 346.60v1.3M707.08 523.40v-1.3M707.08 346.60v1.3M710.09 523.40v-1.3M710.09 346.60v1.3M712.75 523.40v-1.3M712.75 346.60v1.3M715.12 523.40v-2.4M715.12 346.60v2.4M730.74 523.40v-1.3M730.74 346.60v1.3M739.87 523.40v-1.3M739.87 346.60v1.3M746.35 523.40v-1.3M746.35 346.60v1.3M751.38 523.40v-1.3M751.38 346.60v1.3M755.49 523.40v-1.3M755.49 346.60v1.3M758.96 523.40v-1.3M758.96 346.60v1.3M761.97 523.40v-1.3M761.97 346.60v1.3M764.63 523.40v-1.3M764.63 346.60v1.3M507.60 484.11h2.4M767.00 484.11h-2.4M507.60 444.82h2.4M767.00 444.82h-2.4M507.60 405.53h2.4M767.00 405.53h-2.4M507.60 366.24h2.4M767.00 366.24h-2.4" stroke="#5a5a5a" stroke-width="0.9" fill="none"/>
<path d="M512.1 523.3C516.4 523.2 528.4 522.9 537.8 522.7C547.2 522.5 561.2 523.0 568.7 522.2C576.2 521.4 579.0 519.8 583.1 517.7C587.2 515.6 589.9 513.5 593.3 509.4C596.7 505.3 600.2 498.8 603.6 493.0C607.0 487.2 610.8 478.9 613.9 474.5C617.0 470.1 619.7 468.1 622.1 466.3C624.5 464.5 626.2 463.6 628.3 463.6C630.3 463.6 632.0 464.1 634.4 466.3C636.8 468.5 640.0 472.7 642.7 476.6C645.5 480.5 648.2 486.3 650.9 489.9C653.6 493.5 656.0 495.9 659.1 498.1C662.2 500.3 666.0 502.2 669.4 502.9C672.8 503.6 676.5 502.6 679.7 502.2C683.0 501.8 686.2 499.8 688.9 500.2C691.6 500.6 693.5 502.1 696.1 504.3C698.7 506.5 701.5 510.7 704.3 513.6C707.0 516.5 710.5 520.2 712.6 521.8C714.7 523.4 713.6 523.0 716.7 523.3C719.8 523.5 728.6 523.3 731.0 523.3" fill="none" stroke="#303030" stroke-width="0.95" stroke-linejoin="round" stroke-linecap="butt"/>
<path d="M512.1 523.3C516.4 523.2 529.8 522.9 537.8 522.7C545.8 522.6 553.1 523.4 560.0 522.4C566.9 521.4 574.0 518.8 578.9 516.6C583.8 514.4 586.1 512.6 589.2 509.4C592.3 506.1 594.6 501.9 597.4 497.1C600.1 492.3 603.0 486.9 605.7 480.7C608.5 474.5 611.5 465.4 613.9 460.1C616.3 454.8 618.2 451.3 620.1 448.8C622.0 446.3 623.5 445.5 625.2 445.3C626.9 445.1 628.4 445.7 630.3 447.8C632.2 449.9 634.4 453.6 636.5 458.0C638.6 462.4 640.7 469.4 642.7 474.5C644.8 479.6 646.4 484.6 648.8 488.9C651.2 493.2 653.9 497.5 657.0 500.2C660.1 502.9 664.2 504.3 667.3 505.0C670.4 505.7 672.8 504.9 675.5 504.5C678.2 504.1 681.4 502.8 683.7 502.4C686.1 501.9 687.5 501.1 689.6 501.8C691.7 502.5 693.7 504.1 696.2 506.6C698.7 509.1 702.2 514.2 704.8 516.8C707.4 519.4 710.0 521.3 712.0 522.4C714.0 523.5 713.8 523.1 717.0 523.3C720.2 523.4 728.7 523.3 731.0 523.3" fill="none" stroke="#303030" stroke-width="0.95" stroke-dasharray="6.3 3.2" stroke-linejoin="round" stroke-linecap="butt"/>
<path d="M512.1 523.3C516.4 523.2 530.1 522.9 537.8 522.7C545.4 522.5 551.1 523.4 558.0 522.2C564.9 521.0 573.7 518.2 578.9 515.6C584.1 513.0 586.1 510.2 589.2 506.4C592.3 502.6 594.6 498.7 597.4 493.0C600.1 487.3 603.0 479.6 605.7 472.4C608.5 465.2 611.5 455.4 613.9 449.8C616.3 444.2 618.4 440.9 620.1 438.5C621.8 436.1 622.7 435.4 624.2 435.4C625.7 435.4 627.4 435.8 629.3 438.5C631.2 441.2 633.5 446.6 635.5 451.9C637.5 457.2 639.4 464.2 641.6 470.4C643.8 476.6 646.6 483.9 648.8 488.9C651.0 493.9 652.2 497.4 655.0 500.2C657.8 503.0 662.2 504.8 665.3 505.6C668.4 506.4 670.8 505.3 673.5 504.8C676.2 504.3 679.2 503.1 681.7 502.6C684.2 502.1 686.4 501.0 688.6 501.6C690.9 502.2 692.7 503.9 695.2 506.4C697.7 508.9 701.2 513.9 703.8 516.6C706.4 519.3 709.0 521.3 711.0 522.4C713.0 523.5 712.7 523.1 716.0 523.3C719.3 523.4 728.5 523.3 731.0 523.3" fill="none" stroke="#606060" stroke-width="0.9" stroke-dasharray="0.9 1.4" stroke-linejoin="round" stroke-linecap="butt"/>
<path d="M512.1 523.3C516.4 523.2 530.8 523.0 537.8 522.7C544.8 522.5 549.1 522.6 554.3 521.8C559.4 521.0 564.6 519.8 568.7 517.7C572.8 515.6 575.5 513.5 578.9 509.4C582.3 505.3 586.1 499.5 589.2 493.0C592.3 486.5 594.6 479.3 597.4 470.4C600.1 461.5 603.0 449.2 605.7 439.6C608.5 430.0 611.5 419.3 613.9 412.8C616.3 406.3 618.5 403.0 620.1 400.5C621.8 398.0 622.4 397.7 623.8 397.8C625.2 397.9 626.7 398.0 628.3 400.9C629.9 403.8 631.7 408.4 633.4 414.9C635.1 421.3 636.9 431.0 638.6 439.6C640.3 448.2 642.0 458.4 643.7 466.3C645.4 474.2 646.9 481.2 648.8 486.8C650.7 492.4 652.2 497.0 655.0 500.2C657.8 503.4 662.2 505.2 665.3 506.0C668.4 506.8 670.8 505.6 673.5 505.0C676.2 504.4 679.2 503.3 681.7 502.7C684.2 502.1 686.1 501.0 688.2 501.6C690.4 502.2 692.1 503.9 694.6 506.4C697.1 508.9 700.4 513.9 703.0 516.6C705.6 519.3 708.2 521.3 710.2 522.4C712.2 523.5 711.8 523.1 715.3 523.3C718.8 523.4 728.4 523.3 731.0 523.3" fill="none" stroke="#303030" stroke-width="0.95" stroke-dasharray="6 2.1 1.2 2.1" stroke-linejoin="round" stroke-linecap="butt"/>
<path d="M512.1 523.3C516.4 523.2 530.8 523.1 537.8 522.7C544.8 522.3 549.5 521.9 554.3 520.7C559.1 519.5 562.8 518.2 566.6 515.6C570.4 513.0 573.6 510.4 576.9 505.3C580.1 500.2 583.4 492.3 586.1 484.8C588.8 477.3 590.7 470.4 593.3 460.1C595.9 449.8 598.9 434.8 601.6 423.1C604.4 411.5 607.2 399.1 609.8 390.2C612.4 381.3 615.1 374.3 617.0 369.7C618.9 365.1 620.0 364.0 621.1 362.5C622.2 361.0 622.8 360.4 623.8 360.6C624.8 360.8 625.9 361.0 627.2 363.5C628.5 366.0 629.9 368.9 631.4 375.8C632.9 382.7 634.8 394.0 636.5 404.6C638.2 415.2 639.9 428.3 641.6 439.6C643.3 450.9 645.1 463.7 646.8 472.4C648.5 481.1 650.2 487.2 651.9 492.0C653.6 496.8 654.8 498.8 657.0 501.2C659.2 503.6 662.5 505.7 665.3 506.4C668.0 507.1 670.8 505.9 673.5 505.3C676.2 504.7 679.3 503.5 681.7 502.9C684.1 502.3 685.9 501.0 687.9 501.6C689.9 502.2 691.6 503.9 694.0 506.4C696.4 508.9 699.7 513.9 702.3 516.6C704.9 519.3 707.5 521.3 709.5 522.4C711.5 523.5 711.0 523.1 714.6 523.3C718.2 523.4 728.3 523.3 731.0 523.3" fill="none" stroke="#000" stroke-width="1.55" stroke-linejoin="round" stroke-linecap="butt"/>
</g>
<g>
<rect x="926.50" y="341.00" width="227.70" height="182.40" fill="none" stroke="#6e6e6e" stroke-width="1"/>
<path d="M940.21 523.40v-1.3M940.21 341.00v1.3M948.23 523.40v-1.3M948.23 341.00v1.3M953.92 523.40v-1.3M953.92 341.00v1.3M958.33 523.40v-1.3M958.33 341.00v1.3M961.94 523.40v-1.3M961.94 341.00v1.3M964.99 523.40v-1.3M964.99 341.00v1.3M967.63 523.40v-1.3M967.63 341.00v1.3M969.96 523.40v-1.3M969.96 341.00v1.3M972.04 523.40v-2.4M972.04 341.00v2.4M985.75 523.40v-1.3M985.75 341.00v1.3M993.77 523.40v-1.3M993.77 341.00v1.3M999.46 523.40v-1.3M999.46 341.00v1.3M1003.87 523.40v-1.3M1003.87 341.00v1.3M1007.48 523.40v-1.3M1007.48 341.00v1.3M1010.53 523.40v-1.3M1010.53 341.00v1.3M1013.17 523.40v-1.3M1013.17 341.00v1.3M1015.50 523.40v-1.3M1015.50 341.00v1.3M1017.58 523.40v-2.4M1017.58 341.00v2.4M1031.29 523.40v-1.3M1031.29 341.00v1.3M1039.31 523.40v-1.3M1039.31 341.00v1.3M1045.00 523.40v-1.3M1045.00 341.00v1.3M1049.41 523.40v-1.3M1049.41 341.00v1.3M1053.02 523.40v-1.3M1053.02 341.00v1.3M1056.07 523.40v-1.3M1056.07 341.00v1.3M1058.71 523.40v-1.3M1058.71 341.00v1.3M1061.04 523.40v-1.3M1061.04 341.00v1.3M1063.12 523.40v-2.4M1063.12 341.00v2.4M1076.83 523.40v-1.3M1076.83 341.00v1.3M1084.85 523.40v-1.3M1084.85 341.00v1.3M1090.54 523.40v-1.3M1090.54 341.00v1.3M1094.95 523.40v-1.3M1094.95 341.00v1.3M1098.56 523.40v-1.3M1098.56 341.00v1.3M1101.61 523.40v-1.3M1101.61 341.00v1.3M1104.25 523.40v-1.3M1104.25 341.00v1.3M1106.58 523.40v-1.3M1106.58 341.00v1.3M1108.66 523.40v-2.4M1108.66 341.00v2.4M1122.37 523.40v-1.3M1122.37 341.00v1.3M1130.39 523.40v-1.3M1130.39 341.00v1.3M1136.08 523.40v-1.3M1136.08 341.00v1.3M1140.49 523.40v-1.3M1140.49 341.00v1.3M1144.10 523.40v-1.3M1144.10 341.00v1.3M1147.15 523.40v-1.3M1147.15 341.00v1.3M1149.79 523.40v-1.3M1149.79 341.00v1.3M1152.12 523.40v-1.3M1152.12 341.00v1.3M926.50 462.60h2.4M1154.20 462.60h-2.4M926.50 401.80h2.4M1154.20 401.80h-2.4" stroke="#5a5a5a" stroke-width="0.9" fill="none"/>
<path d="M931.3 523.3C934.6 523.1 943.4 522.6 951.3 522.3C959.2 522.0 972.1 522.8 978.8 521.6C985.5 520.4 987.6 518.8 991.5 515.3C995.4 511.8 998.8 505.8 1002.0 500.5C1005.2 495.2 1007.7 489.1 1010.5 483.6C1013.3 478.2 1016.4 471.7 1018.9 467.8C1021.4 463.9 1023.5 461.9 1025.3 460.4C1027.1 458.9 1027.8 458.6 1029.5 458.7C1031.2 458.8 1033.7 459.1 1035.8 460.8C1037.9 462.5 1039.7 464.7 1042.2 468.8C1044.7 472.9 1047.8 480.4 1050.6 485.7C1053.4 491.0 1056.2 496.6 1059.0 500.5C1061.8 504.4 1065.0 507.3 1067.5 509.0C1070.0 510.7 1071.7 510.3 1073.8 510.6C1075.9 510.9 1077.9 510.8 1080.2 510.6C1082.5 510.4 1085.5 509.4 1087.6 509.6C1089.7 509.9 1090.5 510.5 1092.8 512.1C1095.1 513.8 1098.6 517.6 1101.3 519.5C1104.0 521.4 1104.8 522.6 1108.7 523.2C1112.6 523.8 1121.9 523.3 1124.5 523.3" fill="none" stroke="#303030" stroke-width="0.95" stroke-linejoin="round" stroke-linecap="butt"/>
<path d="M931.3 523.3C934.6 523.1 944.1 522.6 951.3 522.3C958.5 521.9 968.6 522.7 974.6 521.2C980.6 519.7 983.7 516.7 987.2 513.2C990.7 509.8 992.9 506.1 995.7 500.5C998.5 494.9 1001.3 487.1 1004.1 479.4C1006.9 471.6 1009.8 461.4 1012.6 454.0C1015.4 446.6 1018.8 439.1 1021.0 435.0C1023.2 430.9 1024.4 430.9 1026.0 429.6C1027.6 428.3 1029.1 427.7 1030.5 427.4C1031.9 427.1 1033.3 427.5 1034.5 427.9C1035.7 428.3 1036.3 427.9 1037.9 429.8C1039.5 431.7 1042.2 434.6 1044.3 439.3C1046.4 444.1 1048.5 451.6 1050.6 458.3C1052.7 465.0 1054.8 472.9 1056.9 479.4C1059.0 485.9 1061.2 492.6 1063.3 497.3C1065.4 502.1 1067.8 505.7 1069.6 507.9C1071.3 510.1 1072.0 510.2 1073.8 510.6C1075.6 511.1 1077.9 510.8 1080.2 510.6C1082.5 510.4 1085.5 509.4 1087.6 509.6C1089.7 509.9 1090.5 510.5 1092.8 512.1C1095.1 513.8 1098.6 517.6 1101.3 519.5C1104.0 521.4 1104.8 522.6 1108.7 523.2C1112.6 523.8 1121.9 523.3 1124.5 523.3" fill="none" stroke="#303030" stroke-width="0.95" stroke-dasharray="6.3 3.2" stroke-linejoin="round" stroke-linecap="butt"/>
<path d="M931.3 523.3C934.6 523.1 944.4 522.8 951.3 522.3C958.2 521.8 967.2 522.1 972.5 520.6C977.8 519.1 979.8 516.9 983.0 513.2C986.2 509.5 989.0 503.7 991.5 498.4C994.0 493.1 995.7 488.2 997.8 481.5C999.9 474.8 1002.0 466.4 1004.1 458.3C1006.2 450.2 1008.4 439.9 1010.5 432.9C1012.6 425.8 1014.7 420.2 1016.8 416.0C1018.9 411.8 1020.4 409.5 1023.2 407.6C1026.0 405.7 1030.7 404.4 1033.7 404.4C1036.7 404.4 1039.0 405.3 1041.1 407.6C1043.2 409.9 1044.6 412.8 1046.4 418.1C1048.2 423.4 1050.0 431.2 1051.7 439.3C1053.5 447.4 1055.2 458.3 1056.9 466.7C1058.7 475.1 1060.4 483.6 1062.2 489.9C1064.0 496.2 1065.6 501.2 1067.5 504.7C1069.4 508.1 1071.7 509.6 1073.8 510.6C1075.9 511.6 1077.9 510.8 1080.2 510.6C1082.5 510.4 1085.5 509.4 1087.6 509.6C1089.7 509.9 1090.5 510.5 1092.8 512.1C1095.1 513.8 1098.6 517.6 1101.3 519.5C1104.0 521.4 1104.8 522.6 1108.7 523.2C1112.6 523.8 1121.9 523.3 1124.5 523.3" fill="none" stroke="#606060" stroke-width="0.9" stroke-dasharray="0.9 1.4" stroke-linejoin="round" stroke-linecap="butt"/>
<path d="M931.3 523.3C934.6 523.1 945.1 522.8 951.3 522.3C957.4 521.8 963.6 522.0 968.2 520.6C972.8 519.2 975.6 517.6 978.8 514.2C982.0 510.9 984.7 505.6 987.2 500.5C989.7 495.4 991.5 490.6 993.6 483.6C995.7 476.6 997.8 467.8 999.9 458.3C1002.0 448.8 1004.2 436.5 1006.3 426.6C1008.4 416.7 1010.5 406.3 1012.6 399.1C1014.7 391.9 1016.8 386.8 1018.9 383.3C1021.0 379.8 1022.8 379.3 1025.3 378.0C1027.8 376.7 1031.0 376.2 1033.7 375.3C1036.4 374.4 1039.8 372.4 1041.7 372.3C1043.6 372.2 1044.2 373.2 1045.3 374.8C1046.4 376.4 1047.3 377.8 1048.5 382.2C1049.7 386.6 1051.1 392.8 1052.3 401.2C1053.5 409.6 1054.6 422.0 1055.9 432.9C1057.2 443.8 1058.7 456.8 1060.1 466.7C1061.5 476.6 1062.9 485.6 1064.3 492.1C1065.7 498.6 1067.0 502.7 1068.6 505.8C1070.2 508.9 1071.9 509.8 1073.8 510.6C1075.7 511.4 1077.9 510.8 1080.2 510.6C1082.5 510.4 1085.5 509.4 1087.6 509.6C1089.7 509.9 1090.5 510.5 1092.8 512.1C1095.1 513.8 1098.6 517.6 1101.3 519.5C1104.0 521.4 1104.8 522.6 1108.7 523.2C1112.6 523.8 1121.9 523.3 1124.5 523.3" fill="none" stroke="#303030" stroke-width="0.95" stroke-dasharray="6 2.1 1.2 2.1" stroke-linejoin="round" stroke-linecap="butt"/>
<path d="M931.3 523.3C934.6 523.1 945.5 522.9 951.3 522.3C957.1 521.7 961.9 521.2 966.1 519.5C970.3 517.8 973.5 515.6 976.7 512.1C979.9 508.6 982.6 503.8 985.1 498.4C987.6 492.9 989.4 487.1 991.5 479.4C993.6 471.6 995.7 461.8 997.8 451.9C999.9 442.0 1002.0 430.9 1004.1 420.3C1006.2 409.8 1008.5 396.7 1010.5 388.6C1012.5 380.5 1014.0 375.8 1015.8 371.7C1017.5 367.6 1019.2 365.9 1021.0 364.3C1022.8 362.7 1023.8 362.3 1026.3 361.8C1028.8 361.3 1033.0 361.3 1035.8 361.1C1038.5 360.9 1041.0 360.2 1042.8 360.5C1044.6 360.8 1045.3 360.9 1046.4 362.8C1047.5 364.7 1048.5 367.1 1049.5 371.7C1050.5 376.3 1051.5 381.2 1052.7 390.7C1053.9 400.2 1055.5 416.4 1056.9 428.7C1058.3 441.0 1059.8 454.0 1061.2 464.6C1062.6 475.2 1064.0 485.2 1065.4 492.1C1066.8 499.0 1068.2 502.7 1069.6 505.8C1071.0 508.9 1072.0 509.8 1073.8 510.6C1075.6 511.4 1077.9 510.8 1080.2 510.6C1082.5 510.4 1085.5 509.4 1087.6 509.6C1089.7 509.9 1090.5 510.5 1092.8 512.1C1095.1 513.8 1098.6 517.6 1101.3 519.5C1104.0 521.4 1104.8 522.6 1108.7 523.2C1112.6 523.8 1121.9 523.3 1124.5 523.3" fill="none" stroke="#000" stroke-width="1.55" stroke-linejoin="round" stroke-linecap="butt"/>
</g>
<g>
<rect x="126.50" y="615.60" width="227.90" height="181.40" fill="none" stroke="#6e6e6e" stroke-width="1"/>
<path d="M140.22 797.00v-1.3M140.22 615.60v1.3M148.25 797.00v-1.3M148.25 615.60v1.3M153.94 797.00v-1.3M153.94 615.60v1.3M158.36 797.00v-1.3M158.36 615.60v1.3M161.97 797.00v-1.3M161.97 615.60v1.3M165.02 797.00v-1.3M165.02 615.60v1.3M167.66 797.00v-1.3M167.66 615.60v1.3M169.99 797.00v-1.3M169.99 615.60v1.3M172.08 797.00v-2.4M172.08 615.60v2.4M185.80 797.00v-1.3M185.80 615.60v1.3M193.83 797.00v-1.3M193.83 615.60v1.3M199.52 797.00v-1.3M199.52 615.60v1.3M203.94 797.00v-1.3M203.94 615.60v1.3M207.55 797.00v-1.3M207.55 615.60v1.3M210.60 797.00v-1.3M210.60 615.60v1.3M213.24 797.00v-1.3M213.24 615.60v1.3M215.57 797.00v-1.3M215.57 615.60v1.3M217.66 797.00v-2.4M217.66 615.60v2.4M231.38 797.00v-1.3M231.38 615.60v1.3M239.41 797.00v-1.3M239.41 615.60v1.3M245.10 797.00v-1.3M245.10 615.60v1.3M249.52 797.00v-1.3M249.52 615.60v1.3M253.13 797.00v-1.3M253.13 615.60v1.3M256.18 797.00v-1.3M256.18 615.60v1.3M258.82 797.00v-1.3M258.82 615.60v1.3M261.15 797.00v-1.3M261.15 615.60v1.3M263.24 797.00v-2.4M263.24 615.60v2.4M276.96 797.00v-1.3M276.96 615.60v1.3M284.99 797.00v-1.3M284.99 615.60v1.3M290.68 797.00v-1.3M290.68 615.60v1.3M295.10 797.00v-1.3M295.10 615.60v1.3M298.71 797.00v-1.3M298.71 615.60v1.3M301.76 797.00v-1.3M301.76 615.60v1.3M304.40 797.00v-1.3M304.40 615.60v1.3M306.73 797.00v-1.3M306.73 615.60v1.3M308.82 797.00v-2.4M308.82 615.60v2.4M322.54 797.00v-1.3M322.54 615.60v1.3M330.57 797.00v-1.3M330.57 615.60v1.3M336.26 797.00v-1.3M336.26 615.60v1.3M340.68 797.00v-1.3M340.68 615.60v1.3M344.29 797.00v-1.3M344.29 615.60v1.3M347.34 797.00v-1.3M347.34 615.60v1.3M349.98 797.00v-1.3M349.98 615.60v1.3M352.31 797.00v-1.3M352.31 615.60v1.3M126.50 760.72h2.4M354.40 760.72h-2.4M126.50 724.44h2.4M354.40 724.44h-2.4M126.50 688.16h2.4M354.40 688.16h-2.4M126.50 651.88h2.4M354.40 651.88h-2.4" stroke="#5a5a5a" stroke-width="0.9" fill="none"/>
<path d="M149.3 797.4C153.8 797.3 169.6 797.1 176.4 796.6C183.2 796.1 185.4 795.8 189.9 794.5C194.4 793.2 199.3 791.3 203.5 788.9C207.7 786.5 211.2 783.2 215.1 780.1C219.0 777.0 223.2 774.0 226.8 770.4C230.4 766.8 233.2 763.3 236.4 758.8C239.6 754.3 243.2 748.5 246.1 743.3C249.0 738.1 251.6 732.0 253.9 727.8C256.2 723.6 258.0 720.3 259.7 718.1C261.4 715.9 262.6 714.6 264.0 714.6C265.4 714.6 266.8 715.2 268.4 718.1C269.9 721.0 271.7 725.9 273.3 731.7C274.9 737.5 276.7 746.9 278.1 753.0C279.6 759.1 280.7 764.7 282.0 768.5C283.3 772.3 284.4 774.4 285.9 775.9C287.3 777.4 289.1 777.3 290.7 777.8C292.3 778.2 293.9 777.7 295.5 778.6C297.1 779.5 298.6 780.6 300.4 783.0C302.2 785.4 304.6 790.4 306.2 792.7C307.8 795.0 309.0 795.8 310.1 796.6C311.2 797.4 310.1 797.3 313.0 797.4C315.9 797.5 325.1 797.4 327.5 797.4" fill="none" stroke="#303030" stroke-width="1" stroke-linejoin="round" stroke-linecap="butt"/>
<path d="M149.3 797.4C153.8 797.3 169.6 797.1 176.4 796.6C183.2 796.1 185.4 795.8 189.9 794.5C194.4 793.2 199.3 791.3 203.5 788.9C207.7 786.5 211.2 783.2 215.1 780.1C219.0 777.0 223.6 774.6 226.8 770.4C230.0 766.2 231.9 760.7 234.5 754.9C237.1 749.1 239.7 742.7 242.3 735.6C244.9 728.5 247.6 719.7 250.0 712.3C252.4 704.9 254.9 696.5 256.8 691.0C258.7 685.5 260.3 681.7 261.6 679.4C262.9 677.1 263.4 677.1 264.5 677.4C265.6 677.7 267.1 677.7 268.4 681.3C269.7 684.9 271.0 690.1 272.3 698.8C273.6 707.5 274.9 723.0 276.2 733.6C277.5 744.2 278.7 755.9 280.0 762.7C281.3 769.5 282.4 771.9 283.9 774.3C285.4 776.7 287.2 776.4 288.8 777.2C290.4 778.0 292.0 777.4 293.6 779.2C295.2 781.0 296.8 785.2 298.4 787.9C300.0 790.6 301.8 794.0 303.3 795.6C304.8 797.2 303.2 797.1 307.2 797.4C311.2 797.7 324.1 797.4 327.5 797.4" fill="none" stroke="#303030" stroke-width="1" stroke-dasharray="6.3 3.2" stroke-linejoin="round" stroke-linecap="butt"/>
</g>
<g>
<rect x="522.60" y="615.00" width="227.90" height="181.80" fill="none" stroke="#6e6e6e" stroke-width="1"/>
<path d="M536.32 796.80v-1.3M536.32 615.00v1.3M544.35 796.80v-1.3M544.35 615.00v1.3M550.04 796.80v-1.3M550.04 615.00v1.3M554.46 796.80v-1.3M554.46 615.00v1.3M558.07 796.80v-1.3M558.07 615.00v1.3M561.12 796.80v-1.3M561.12 615.00v1.3M563.76 796.80v-1.3M563.76 615.00v1.3M566.09 796.80v-1.3M566.09 615.00v1.3M568.18 796.80v-2.4M568.18 615.00v2.4M581.90 796.80v-1.3M581.90 615.00v1.3M589.93 796.80v-1.3M589.93 615.00v1.3M595.62 796.80v-1.3M595.62 615.00v1.3M600.04 796.80v-1.3M600.04 615.00v1.3M603.65 796.80v-1.3M603.65 615.00v1.3M606.70 796.80v-1.3M606.70 615.00v1.3M609.34 796.80v-1.3M609.34 615.00v1.3M611.67 796.80v-1.3M611.67 615.00v1.3M613.76 796.80v-2.4M613.76 615.00v2.4M627.48 796.80v-1.3M627.48 615.00v1.3M635.51 796.80v-1.3M635.51 615.00v1.3M641.20 796.80v-1.3M641.20 615.00v1.3M645.62 796.80v-1.3M645.62 615.00v1.3M649.23 796.80v-1.3M649.23 615.00v1.3M652.28 796.80v-1.3M652.28 615.00v1.3M654.92 796.80v-1.3M654.92 615.00v1.3M657.25 796.80v-1.3M657.25 615.00v1.3M659.34 796.80v-2.4M659.34 615.00v2.4M673.06 796.80v-1.3M673.06 615.00v1.3M681.09 796.80v-1.3M681.09 615.00v1.3M686.78 796.80v-1.3M686.78 615.00v1.3M691.20 796.80v-1.3M691.20 615.00v1.3M694.81 796.80v-1.3M694.81 615.00v1.3M697.86 796.80v-1.3M697.86 615.00v1.3M700.50 796.80v-1.3M700.50 615.00v1.3M702.83 796.80v-1.3M702.83 615.00v1.3M704.92 796.80v-2.4M704.92 615.00v2.4M718.64 796.80v-1.3M718.64 615.00v1.3M726.67 796.80v-1.3M726.67 615.00v1.3M732.36 796.80v-1.3M732.36 615.00v1.3M736.78 796.80v-1.3M736.78 615.00v1.3M740.39 796.80v-1.3M740.39 615.00v1.3M743.44 796.80v-1.3M743.44 615.00v1.3M746.08 796.80v-1.3M746.08 615.00v1.3M748.41 796.80v-1.3M748.41 615.00v1.3M522.60 760.44h2.4M750.50 760.44h-2.4M522.60 724.08h2.4M750.50 724.08h-2.4M522.60 687.72h2.4M750.50 687.72h-2.4M522.60 651.36h2.4M750.50 651.36h-2.4" stroke="#5a5a5a" stroke-width="0.9" fill="none"/>
<path d="M552.0 796.9C557.0 796.7 575.2 796.2 582.0 795.9C588.8 795.6 589.1 796.3 592.7 795.3C596.3 794.3 600.3 792.0 603.5 789.9C606.7 787.8 608.8 784.8 612.0 782.4C615.2 780.0 619.2 777.1 622.8 775.3C626.4 773.5 629.6 772.8 633.5 771.7C637.4 770.6 642.4 769.8 646.3 768.5C650.2 767.2 653.8 765.8 657.0 764.2C660.2 762.6 662.9 760.2 665.6 758.8C668.3 757.4 671.0 755.8 673.1 756.0C675.2 756.2 676.7 757.5 678.5 759.9C680.3 762.3 682.0 767.2 683.8 770.6C685.6 774.0 687.2 778.1 689.2 780.3C691.2 782.4 693.6 782.4 695.6 783.5C697.6 784.6 699.2 784.9 701.0 786.7C702.8 788.5 704.8 792.6 706.4 794.2C708.0 795.9 709.6 796.2 710.5 796.6C711.4 797.0 709.5 796.9 711.7 796.9C713.9 796.9 721.5 796.9 723.5 796.9" fill="none" stroke="#303030" stroke-width="0.95" stroke-linejoin="round" stroke-linecap="butt"/>
<path d="M552.0 796.9C557.0 796.7 575.2 796.4 582.0 795.9C588.8 795.4 589.1 795.3 592.7 794.0C596.3 792.7 600.3 790.2 603.5 788.0C606.7 785.8 608.8 782.8 612.0 780.5C615.2 778.2 619.2 775.9 622.8 774.0C626.4 772.1 629.9 770.7 633.5 769.1C637.1 767.5 640.6 766.3 644.2 764.6C647.8 762.9 651.3 761.5 654.9 758.8C658.5 756.0 662.7 751.1 665.6 748.1C668.5 745.1 670.5 742.0 672.1 740.6C673.7 739.2 673.9 739.0 675.3 739.5C676.7 740.0 678.8 740.8 680.6 743.8C682.4 746.8 684.4 753.1 686.0 757.8C687.6 762.4 688.9 768.0 690.3 771.7C691.7 775.5 693.0 778.1 694.6 780.3C696.2 782.4 698.1 782.6 699.9 784.6C701.7 786.6 703.7 790.2 705.3 792.1C706.9 794.0 708.4 795.5 709.5 796.3C710.6 797.1 709.4 796.8 711.7 796.9C714.0 797.0 721.5 796.9 723.5 796.9" fill="none" stroke="#303030" stroke-width="0.95" stroke-dasharray="6.3 3.2" stroke-linejoin="round" stroke-linecap="butt"/>
<path d="M552.0 796.9C557.0 796.7 575.2 796.4 582.0 795.9C588.8 795.4 589.1 795.2 592.7 793.8C596.3 792.4 600.3 790.0 603.5 787.6C606.7 785.2 608.8 781.7 612.0 779.2C615.2 776.7 619.2 774.8 622.8 772.8C626.4 770.8 629.9 769.4 633.5 767.4C637.1 765.4 640.6 763.7 644.2 761.0C647.8 758.3 651.7 754.7 654.9 751.3C658.1 747.9 660.8 744.4 663.5 740.6C666.2 736.9 668.7 731.6 671.0 728.8C673.3 726.0 675.4 723.9 677.4 723.9C679.4 723.9 681.0 725.3 682.8 728.8C684.6 732.3 686.5 739.0 688.1 744.9C689.7 750.8 691.0 758.5 692.4 764.2C693.8 769.9 695.1 775.5 696.7 779.2C698.3 783.0 700.3 784.2 702.1 786.7C703.9 789.2 705.8 792.5 707.4 794.2C709.0 795.9 709.0 796.5 711.7 796.9C714.4 797.3 721.5 796.9 723.5 796.9" fill="none" stroke="#606060" stroke-width="0.9" stroke-dasharray="0.9 1.4" stroke-linejoin="round" stroke-linecap="butt"/>
<path d="M552.0 796.9C557.0 796.7 575.2 796.5 582.0 795.9C588.8 795.3 589.1 794.8 592.7 793.3C596.3 791.8 600.3 789.2 603.5 787.0C606.7 784.8 608.8 782.2 612.0 780.0C615.2 777.8 619.2 776.0 622.8 774.0C626.4 772.0 630.3 770.2 633.5 768.0C636.7 765.8 639.1 764.1 642.0 761.0C644.9 757.9 647.7 754.2 650.6 749.2C653.5 744.2 656.3 738.5 659.2 731.0C662.1 723.5 665.3 712.6 667.8 704.2C670.3 695.8 672.2 686.7 674.2 680.6C676.2 674.5 678.2 670.3 679.6 667.7C681.0 665.1 681.2 664.7 682.3 664.9C683.4 665.1 684.9 665.5 686.0 668.8C687.1 672.1 688.1 677.6 689.2 684.9C690.3 692.2 691.3 703.1 692.4 712.8C693.5 722.4 694.5 733.9 695.6 742.8C696.7 751.7 697.5 759.2 698.8 766.3C700.0 773.4 701.7 781.0 703.1 785.6C704.5 790.2 706.0 792.3 707.4 794.2C708.8 796.1 709.0 796.5 711.7 796.9C714.4 797.3 721.5 796.9 723.5 796.9" fill="none" stroke="#303030" stroke-width="0.95" stroke-dasharray="6 2.1 1.2 2.1" stroke-linejoin="round" stroke-linecap="butt"/>
<path d="M552.0 796.9C557.0 796.7 575.2 796.5 582.0 795.9C588.8 795.3 589.1 794.6 592.7 793.1C596.3 791.6 600.3 788.8 603.5 786.7C606.7 784.6 608.8 782.3 612.0 780.3C615.2 778.3 619.2 776.9 622.8 774.9C626.4 772.9 630.3 771.0 633.5 768.5C636.7 766.0 639.1 763.8 642.0 759.9C644.9 756.0 647.7 751.3 650.6 744.9C653.5 738.5 656.7 729.2 659.2 721.3C661.7 713.4 663.6 705.9 665.6 697.7C667.6 689.5 669.4 680.2 671.0 672.0C672.6 663.8 674.0 654.8 675.3 648.4C676.5 642.0 677.5 636.9 678.5 633.4C679.5 629.9 680.1 627.8 681.1 627.6C682.1 627.4 683.4 628.9 684.5 632.4C685.6 635.9 686.5 641.4 687.5 648.4C688.5 655.4 689.3 664.2 690.3 674.2C691.3 684.2 692.4 696.7 693.5 708.5C694.6 720.3 695.6 734.5 696.7 744.9C697.8 755.2 698.6 763.5 699.9 770.6C701.1 777.8 702.8 783.7 704.2 787.8C705.6 791.9 707.2 793.8 708.5 795.3C709.8 796.8 709.2 796.6 711.7 796.9C714.2 797.2 721.5 796.9 723.5 796.9" fill="none" stroke="#000" stroke-width="1.55" stroke-linejoin="round" stroke-linecap="butt"/>
</g>
<g>
<rect x="910.30" y="620.20" width="259.70" height="176.60" fill="none" stroke="#6e6e6e" stroke-width="1"/>
<path d="M925.94 796.80v-1.3M925.94 620.20v1.3M935.08 796.80v-1.3M935.08 620.20v1.3M941.57 796.80v-1.3M941.57 620.20v1.3M946.60 796.80v-1.3M946.60 620.20v1.3M950.72 796.80v-1.3M950.72 620.20v1.3M954.19 796.80v-1.3M954.19 620.20v1.3M957.21 796.80v-1.3M957.21 620.20v1.3M959.86 796.80v-1.3M959.86 620.20v1.3M962.24 796.80v-2.4M962.24 620.20v2.4M977.88 796.80v-1.3M977.88 620.20v1.3M987.02 796.80v-1.3M987.02 620.20v1.3M993.51 796.80v-1.3M993.51 620.20v1.3M998.54 796.80v-1.3M998.54 620.20v1.3M1002.66 796.80v-1.3M1002.66 620.20v1.3M1006.13 796.80v-1.3M1006.13 620.20v1.3M1009.15 796.80v-1.3M1009.15 620.20v1.3M1011.80 796.80v-1.3M1011.80 620.20v1.3M1014.18 796.80v-2.4M1014.18 620.20v2.4M1029.82 796.80v-1.3M1029.82 620.20v1.3M1038.96 796.80v-1.3M1038.96 620.20v1.3M1045.45 796.80v-1.3M1045.45 620.20v1.3M1050.48 796.80v-1.3M1050.48 620.20v1.3M1054.60 796.80v-1.3M1054.60 620.20v1.3M1058.07 796.80v-1.3M1058.07 620.20v1.3M1061.09 796.80v-1.3M1061.09 620.20v1.3M1063.74 796.80v-1.3M1063.74 620.20v1.3M1066.12 796.80v-2.4M1066.12 620.20v2.4M1081.76 796.80v-1.3M1081.76 620.20v1.3M1090.90 796.80v-1.3M1090.90 620.20v1.3M1097.39 796.80v-1.3M1097.39 620.20v1.3M1102.42 796.80v-1.3M1102.42 620.20v1.3M1106.54 796.80v-1.3M1106.54 620.20v1.3M1110.01 796.80v-1.3M1110.01 620.20v1.3M1113.03 796.80v-1.3M1113.03 620.20v1.3M1115.68 796.80v-1.3M1115.68 620.20v1.3M1118.06 796.80v-2.4M1118.06 620.20v2.4M1133.70 796.80v-1.3M1133.70 620.20v1.3M1142.84 796.80v-1.3M1142.84 620.20v1.3M1149.33 796.80v-1.3M1149.33 620.20v1.3M1154.36 796.80v-1.3M1154.36 620.20v1.3M1158.48 796.80v-1.3M1158.48 620.20v1.3M1161.95 796.80v-1.3M1161.95 620.20v1.3M1164.97 796.80v-1.3M1164.97 620.20v1.3M1167.62 796.80v-1.3M1167.62 620.20v1.3M910.30 752.65h2.4M1170.00 752.65h-2.4M910.30 708.50h2.4M1170.00 708.50h-2.4M910.30 664.35h2.4M1170.00 664.35h-2.4" stroke="#5a5a5a" stroke-width="0.9" fill="none"/>
<path d="M946.4 796.9C951.4 796.8 969.0 796.5 976.2 796.1C983.4 795.7 985.5 795.8 989.5 794.6C993.5 793.4 996.8 791.4 1000.5 789.0C1004.2 786.6 1007.8 783.1 1011.5 780.2C1015.2 777.3 1018.9 773.7 1022.6 771.4C1026.3 769.1 1029.6 767.6 1033.6 766.3C1037.6 765.0 1042.4 764.4 1046.8 763.7C1051.2 763.0 1055.7 762.6 1060.1 761.9C1064.5 761.1 1069.2 760.1 1073.3 759.2C1077.3 758.3 1081.6 756.5 1084.4 756.4C1087.2 756.3 1088.1 757.0 1089.9 758.6C1091.7 760.2 1093.4 763.0 1095.4 765.9C1097.4 768.8 1100.0 773.2 1102.0 775.8C1104.0 778.4 1105.7 779.8 1107.5 781.3C1109.3 782.8 1111.2 782.8 1113.0 784.6C1114.8 786.5 1116.9 790.5 1118.6 792.4C1120.3 794.3 1121.5 795.5 1123.0 796.3C1124.5 797.0 1124.7 796.8 1127.4 796.9C1130.2 797.0 1137.5 796.9 1139.5 796.9" fill="none" stroke="#303030" stroke-width="0.95" stroke-linejoin="round" stroke-linecap="butt"/>
<path d="M946.4 796.9C951.4 796.8 969.0 796.5 976.2 796.1C983.4 795.7 985.5 795.5 989.5 794.2C993.5 792.9 996.8 790.6 1000.5 788.2C1004.2 785.8 1007.8 782.5 1011.5 779.6C1015.2 776.7 1018.9 773.2 1022.6 770.9C1026.3 768.6 1029.9 767.0 1033.6 765.6C1037.3 764.2 1040.9 763.5 1044.6 762.6C1048.3 761.7 1052.0 761.5 1055.7 760.4C1059.4 759.3 1063.0 757.9 1066.7 755.9C1070.4 753.9 1074.8 750.4 1077.7 748.2C1080.7 746.0 1082.6 743.9 1084.4 742.7C1086.2 741.5 1087.3 740.8 1088.8 741.2C1090.3 741.6 1091.5 742.1 1093.2 744.9C1094.9 747.7 1096.9 753.5 1098.7 758.1C1100.5 762.7 1102.4 768.8 1104.2 772.5C1106.0 776.2 1107.9 777.8 1109.7 780.2C1111.5 782.6 1113.5 784.4 1115.3 786.8C1117.1 789.2 1119.3 793.0 1120.8 794.6C1122.3 796.2 1123.4 796.1 1124.5 796.5C1125.6 796.9 1124.9 796.8 1127.4 796.9C1129.9 797.0 1137.5 796.9 1139.5 796.9" fill="none" stroke="#303030" stroke-width="0.95" stroke-dasharray="6.3 3.2" stroke-linejoin="round" stroke-linecap="butt"/>
<path d="M946.4 796.9C951.4 796.8 969.0 796.6 976.2 796.1C983.4 795.6 985.5 795.4 989.5 794.0C993.5 792.6 996.8 790.3 1000.5 787.8C1004.2 785.3 1007.8 782.1 1011.5 779.2C1015.2 776.3 1018.9 772.9 1022.6 770.5C1026.3 768.1 1029.9 766.5 1033.6 765.0C1037.3 763.5 1040.9 762.6 1044.6 761.5C1048.3 760.4 1052.0 759.8 1055.7 758.1C1059.4 756.4 1063.0 754.2 1066.7 751.5C1070.4 748.8 1074.6 744.5 1077.7 741.6C1080.8 738.7 1083.3 735.7 1085.5 733.9C1087.7 732.1 1089.2 730.6 1091.0 731.0C1092.8 731.4 1094.7 732.9 1096.5 736.1C1098.3 739.3 1100.2 745.1 1102.0 750.4C1103.8 755.7 1105.8 763.5 1107.5 768.1C1109.2 772.7 1110.4 775.1 1111.9 778.0C1113.4 780.9 1114.9 783.1 1116.4 785.7C1117.9 788.3 1119.5 791.7 1120.8 793.5C1122.1 795.3 1123.4 795.7 1124.5 796.3C1125.6 796.9 1124.9 796.8 1127.4 796.9C1129.9 797.0 1137.5 796.9 1139.5 796.9" fill="none" stroke="#606060" stroke-width="0.9" stroke-dasharray="0.9 1.4" stroke-linejoin="round" stroke-linecap="butt"/>
<path d="M946.4 796.9C951.4 796.8 969.0 796.6 976.2 796.1C983.4 795.6 985.5 795.2 989.5 793.7C993.5 792.2 996.8 789.7 1000.5 787.2C1004.2 784.7 1007.8 781.4 1011.5 778.5C1015.2 775.6 1018.9 772.2 1022.6 769.8C1026.3 767.4 1029.9 765.8 1033.6 764.2C1037.3 762.6 1041.3 761.6 1044.6 760.0C1047.9 758.4 1050.5 757.1 1053.5 754.8C1056.5 752.5 1059.4 749.9 1062.3 746.0C1065.2 742.1 1068.2 737.6 1071.1 731.7C1074.0 725.8 1077.3 716.4 1079.9 710.7C1082.5 705.0 1084.4 701.0 1086.6 697.5C1088.8 694.0 1091.2 691.4 1093.2 689.7C1095.2 688.0 1097.1 687.0 1098.7 687.5C1100.3 688.0 1101.8 689.5 1103.1 693.0C1104.4 696.5 1105.3 701.9 1106.4 708.5C1107.5 715.1 1108.6 724.3 1109.7 732.8C1110.8 741.2 1111.9 751.7 1113.0 759.2C1114.1 766.7 1115.3 772.9 1116.4 778.0C1117.5 783.1 1118.4 787.1 1119.7 790.1C1121.0 793.1 1122.8 794.8 1124.1 795.9C1125.4 797.0 1124.8 796.7 1127.4 796.9C1130.0 797.1 1137.5 796.9 1139.5 796.9" fill="none" stroke="#303030" stroke-width="0.95" stroke-dasharray="6 2.1 1.2 2.1" stroke-linejoin="round" stroke-linecap="butt"/>
<path d="M946.4 796.9C951.4 796.8 969.0 796.7 976.2 796.1C983.4 795.5 985.5 795.0 989.5 793.5C993.5 792.0 996.8 789.4 1000.5 786.8C1004.2 784.2 1007.8 780.9 1011.5 778.0C1015.2 775.1 1018.9 771.6 1022.6 769.2C1026.3 766.8 1029.9 765.4 1033.6 763.7C1037.3 762.0 1041.3 761.1 1044.6 759.2C1047.9 757.4 1050.5 755.5 1053.5 752.6C1056.5 749.7 1059.4 746.4 1062.3 741.6C1065.2 736.8 1068.2 730.9 1071.1 723.9C1074.0 716.9 1077.3 707.4 1079.9 699.7C1082.5 692.0 1084.6 684.4 1086.6 677.6C1088.6 670.8 1090.6 663.2 1092.1 658.8C1093.6 654.4 1094.5 652.7 1095.4 651.1C1096.3 649.5 1096.8 649.1 1097.6 649.3C1098.4 649.5 1099.3 649.7 1100.2 652.2C1101.1 654.7 1102.1 658.2 1103.1 664.3C1104.1 670.4 1105.3 679.0 1106.4 688.6C1107.5 698.2 1108.6 711.0 1109.7 721.7C1110.8 732.4 1111.9 743.8 1113.0 752.6C1114.1 761.4 1115.3 768.6 1116.4 774.7C1117.5 780.8 1118.6 785.6 1119.7 789.0C1120.8 792.4 1121.7 793.7 1123.0 795.0C1124.3 796.3 1124.7 796.6 1127.4 796.9C1130.2 797.2 1137.5 796.9 1139.5 796.9" fill="none" stroke="#000" stroke-width="1.55" stroke-linejoin="round" stroke-linecap="butt"/>
</g>
<g>
<rect x="123.7" y="49.7" width="69.0" height="91.0" fill="#fff" stroke="#000" stroke-width="1.4"/>
<path d="M127 61.5H151.2" stroke="#303030" stroke-width="0.95" fill="none"/>
<path d="M127 79.3H151.2" stroke="#303030" stroke-width="0.95" stroke-dasharray="6.3 3.2" fill="none"/>
<path d="M127 96.9H151.2" stroke="#606060" stroke-width="0.9" stroke-dasharray="0.9 1.4" fill="none"/>
<path d="M127 114.8H151.2" stroke="#303030" stroke-width="0.95" stroke-dasharray="6 2.1 1.2 2.1" fill="none"/>
<path d="M127 132.8H151.2" stroke="#000" stroke-width="1.55" fill="none"/>
</g>
</svg>
<div id="tx">
<div class="t " style="top:209.84px;font-size:25px;line-height:25px;right:1079.10px;">0</div>
<div class="t " style="top:165.36px;font-size:25px;line-height:25px;right:1079.10px;">0.5</div>
<div class="t " style="top:120.87px;font-size:25px;line-height:25px;right:1079.10px;">1.0</div>
<div class="t " style="top:76.39px;font-size:25px;line-height:25px;right:1079.10px;">1.5</div>
<div class="t " style="top:31.91px;font-size:25px;line-height:25px;right:1079.10px;">2.0</div>
<div class="t " style="top:230.96px;font-size:25px;line-height:25px;left:116.40px;transform:translateX(-50%);">10<span class="sp"><span class="sm" style="margin-right:2.35px">−</span>1</span></div>
<div class="t " style="top:230.96px;font-size:25px;line-height:25px;left:165.30px;transform:translateX(-50%);">10<span class="sp">0</span></div>
<div class="t " style="top:230.96px;font-size:25px;line-height:25px;left:215.00px;transform:translateX(-50%);">10<span class="sp">1</span></div>
<div class="t " style="top:230.96px;font-size:25px;line-height:25px;left:264.70px;transform:translateX(-50%);">10<span class="sp">2</span></div>
<div class="t " style="top:230.96px;font-size:25px;line-height:25px;left:314.40px;transform:translateX(-50%);">10<span class="sp">3</span></div>
<div class="t " style="top:230.96px;font-size:25px;line-height:25px;left:364.10px;transform:translateX(-50%);">10<span class="sp">4</span></div>
<div class="t " style="top:210.64px;font-size:25px;line-height:25px;right:688.70px;"><span class="mn">−</span>4</div>
<div class="t " style="top:166.11px;font-size:25px;line-height:25px;right:688.70px;"><span class="mn">−</span>2</div>
<div class="t " style="top:121.58px;font-size:25px;line-height:25px;right:688.70px;">0</div>
<div class="t " style="top:77.04px;font-size:25px;line-height:25px;right:688.70px;">2</div>
<div class="t " style="top:32.51px;font-size:25px;line-height:25px;right:688.70px;">4</div>
<div class="t " style="top:230.96px;font-size:25px;line-height:25px;left:508.90px;transform:translateX(-50%);">10<span class="sp"><span class="sm" style="margin-right:2.35px">−</span>1</span></div>
<div class="t " style="top:230.96px;font-size:25px;line-height:25px;left:559.86px;transform:translateX(-50%);">10<span class="sp">0</span></div>
<div class="t " style="top:230.96px;font-size:25px;line-height:25px;left:611.62px;transform:translateX(-50%);">10<span class="sp">1</span></div>
<div class="t " style="top:230.96px;font-size:25px;line-height:25px;left:663.38px;transform:translateX(-50%);">10<span class="sp">2</span></div>
<div class="t " style="top:230.96px;font-size:25px;line-height:25px;left:715.14px;transform:translateX(-50%);">10<span class="sp">3</span></div>
<div class="t " style="top:230.96px;font-size:25px;line-height:25px;left:766.90px;transform:translateX(-50%);">10<span class="sp">4</span></div>
<div class="t " style="top:210.24px;font-size:25px;line-height:25px;right:285.00px;"><span class="mn">−</span>6</div>
<div class="t " style="top:174.61px;font-size:25px;line-height:25px;right:285.00px;"><span class="mn">−</span>4</div>
<div class="t " style="top:138.99px;font-size:25px;line-height:25px;right:285.00px;"><span class="mn">−</span>2</div>
<div class="t " style="top:103.36px;font-size:25px;line-height:25px;right:285.00px;">0</div>
<div class="t " style="top:67.74px;font-size:25px;line-height:25px;right:285.00px;">2</div>
<div class="t " style="top:32.11px;font-size:25px;line-height:25px;right:285.00px;">4</div>
<div class="t " style="top:230.96px;font-size:25px;line-height:25px;left:911.30px;transform:translateX(-50%);">10<span class="sp"><span class="sm" style="margin-right:2.35px">−</span>1</span></div>
<div class="t " style="top:230.96px;font-size:25px;line-height:25px;left:962.14px;transform:translateX(-50%);">10<span class="sp">0</span></div>
<div class="t " style="top:230.96px;font-size:25px;line-height:25px;left:1013.78px;transform:translateX(-50%);">10<span class="sp">1</span></div>
<div class="t " style="top:230.96px;font-size:25px;line-height:25px;left:1065.42px;transform:translateX(-50%);">10<span class="sp">2</span></div>
<div class="t " style="top:230.96px;font-size:25px;line-height:25px;left:1117.06px;transform:translateX(-50%);">10<span class="sp">3</span></div>
<div class="t " style="top:230.96px;font-size:25px;line-height:25px;left:1168.70px;transform:translateX(-50%);">10<span class="sp">4</span></div>
<div class="t " style="top:511.94px;font-size:25px;line-height:25px;right:1079.70px;">0</div>
<div class="t " style="top:467.36px;font-size:25px;line-height:25px;right:1079.70px;">0.5</div>
<div class="t " style="top:422.78px;font-size:25px;line-height:25px;right:1079.70px;">1.0</div>
<div class="t " style="top:378.19px;font-size:25px;line-height:25px;right:1079.70px;">1.5</div>
<div class="t " style="top:333.61px;font-size:25px;line-height:25px;right:1079.70px;">2.0</div>
<div class="t " style="top:532.76px;font-size:25px;line-height:25px;left:116.30px;transform:translateX(-50%);">10<span class="sp"><span class="sm" style="margin-right:2.35px">−</span>1</span></div>
<div class="t " style="top:532.76px;font-size:25px;line-height:25px;left:165.84px;transform:translateX(-50%);">10<span class="sp">0</span></div>
<div class="t " style="top:532.76px;font-size:25px;line-height:25px;left:216.18px;transform:translateX(-50%);">10<span class="sp">1</span></div>
<div class="t " style="top:532.76px;font-size:25px;line-height:25px;left:266.52px;transform:translateX(-50%);">10<span class="sp">2</span></div>
<div class="t " style="top:532.76px;font-size:25px;line-height:25px;left:316.86px;transform:translateX(-50%);">10<span class="sp">3</span></div>
<div class="t " style="top:532.76px;font-size:25px;line-height:25px;left:367.20px;transform:translateX(-50%);">10<span class="sp">4</span></div>
<div class="t " style="top:511.94px;font-size:25px;line-height:25px;right:689.40px;">0</div>
<div class="t " style="top:472.35px;font-size:25px;line-height:25px;right:689.40px;">2</div>
<div class="t " style="top:432.77px;font-size:25px;line-height:25px;right:689.40px;">4</div>
<div class="t " style="top:393.19px;font-size:25px;line-height:25px;right:689.40px;">6</div>
<div class="t " style="top:353.60px;font-size:25px;line-height:25px;right:689.40px;">8</div>
<div class="t " style="top:532.76px;font-size:25px;line-height:25px;left:507.50px;transform:translateX(-50%);">10<span class="sp"><span class="sm" style="margin-right:2.35px">−</span>1</span></div>
<div class="t " style="top:532.76px;font-size:25px;line-height:25px;left:558.92px;transform:translateX(-50%);">10<span class="sp">0</span></div>
<div class="t " style="top:532.76px;font-size:25px;line-height:25px;left:611.14px;transform:translateX(-50%);">10<span class="sp">1</span></div>
<div class="t " style="top:532.76px;font-size:25px;line-height:25px;left:663.36px;transform:translateX(-50%);">10<span class="sp">2</span></div>
<div class="t " style="top:532.76px;font-size:25px;line-height:25px;left:715.58px;transform:translateX(-50%);">10<span class="sp">3</span></div>
<div class="t " style="top:532.76px;font-size:25px;line-height:25px;left:767.80px;transform:translateX(-50%);">10<span class="sp">4</span></div>
<div class="t " style="top:510.98px;font-size:25px;line-height:25px;right:270.00px;">0</div>
<div class="t " style="top:449.72px;font-size:25px;line-height:25px;right:270.00px;">0.005</div>
<div class="t " style="top:388.47px;font-size:25px;line-height:25px;right:270.00px;">0.010</div>
<div class="t " style="top:327.21px;font-size:25px;line-height:25px;right:270.00px;">0.015</div>
<div class="t " style="top:532.76px;font-size:25px;line-height:25px;left:926.40px;transform:translateX(-50%);">10<span class="sp"><span class="sm" style="margin-right:2.35px">−</span>1</span></div>
<div class="t " style="top:532.76px;font-size:25px;line-height:25px;left:971.70px;transform:translateX(-50%);">10<span class="sp">0</span></div>
<div class="t " style="top:532.76px;font-size:25px;line-height:25px;left:1017.80px;transform:translateX(-50%);">10<span class="sp">1</span></div>
<div class="t " style="top:532.76px;font-size:25px;line-height:25px;left:1063.90px;transform:translateX(-50%);">10<span class="sp">2</span></div>
<div class="t " style="top:532.76px;font-size:25px;line-height:25px;left:1110.00px;transform:translateX(-50%);">10<span class="sp">3</span></div>
<div class="t " style="top:532.76px;font-size:25px;line-height:25px;left:1156.10px;transform:translateX(-50%);">10<span class="sp">4</span></div>
<div class="t " style="top:784.77px;font-size:25px;line-height:25px;right:1069.10px;">0</div>
<div class="t " style="top:748.22px;font-size:25px;line-height:25px;right:1069.10px;">0.002</div>
<div class="t " style="top:711.67px;font-size:25px;line-height:25px;right:1069.10px;">0.004</div>
<div class="t " style="top:675.12px;font-size:25px;line-height:25px;right:1069.10px;">0.006</div>
<div class="t " style="top:638.56px;font-size:25px;line-height:25px;right:1069.10px;">0.008</div>
<div class="t " style="top:602.01px;font-size:25px;line-height:25px;right:1069.10px;">0.010</div>
<div class="t " style="top:804.36px;font-size:25px;line-height:25px;left:126.40px;transform:translateX(-50%);">10<span class="sp"><span class="sm" style="margin-right:2.35px">−</span>1</span></div>
<div class="t " style="top:804.36px;font-size:25px;line-height:25px;left:171.40px;transform:translateX(-50%);">10<span class="sp">0</span></div>
<div class="t " style="top:804.36px;font-size:25px;line-height:25px;left:217.20px;transform:translateX(-50%);">10<span class="sp">1</span></div>
<div class="t " style="top:804.36px;font-size:25px;line-height:25px;left:263.00px;transform:translateX(-50%);">10<span class="sp">2</span></div>
<div class="t " style="top:804.36px;font-size:25px;line-height:25px;left:308.80px;transform:translateX(-50%);">10<span class="sp">3</span></div>
<div class="t " style="top:804.36px;font-size:25px;line-height:25px;left:354.60px;transform:translateX(-50%);">10<span class="sp">4</span></div>
<div class="t " style="top:785.98px;font-size:25px;line-height:25px;right:673.50px;">0</div>
<div class="t " style="top:749.34px;font-size:25px;line-height:25px;right:673.50px;">0.002</div>
<div class="t " style="top:712.71px;font-size:25px;line-height:25px;right:673.50px;">0.004</div>
<div class="t " style="top:676.08px;font-size:25px;line-height:25px;right:673.50px;">0.006</div>
<div class="t " style="top:639.45px;font-size:25px;line-height:25px;right:673.50px;">0.008</div>
<div class="t " style="top:602.81px;font-size:25px;line-height:25px;right:673.50px;">0.010</div>
<div class="t " style="top:804.36px;font-size:25px;line-height:25px;left:522.50px;transform:translateX(-50%);">10<span class="sp"><span class="sm" style="margin-right:2.35px">−</span>1</span></div>
<div class="t " style="top:804.36px;font-size:25px;line-height:25px;left:567.48px;transform:translateX(-50%);">10<span class="sp">0</span></div>
<div class="t " style="top:804.36px;font-size:25px;line-height:25px;left:613.26px;transform:translateX(-50%);">10<span class="sp">1</span></div>
<div class="t " style="top:804.36px;font-size:25px;line-height:25px;left:659.04px;transform:translateX(-50%);">10<span class="sp">2</span></div>
<div class="t " style="top:804.36px;font-size:25px;line-height:25px;left:704.82px;transform:translateX(-50%);">10<span class="sp">3</span></div>
<div class="t " style="top:804.36px;font-size:25px;line-height:25px;left:750.60px;transform:translateX(-50%);">10<span class="sp">4</span></div>
<div class="t " style="top:785.34px;font-size:25px;line-height:25px;right:286.00px;">0</div>
<div class="t " style="top:740.86px;font-size:25px;line-height:25px;right:286.00px;">2</div>
<div class="t " style="top:696.37px;font-size:25px;line-height:25px;right:286.00px;">4</div>
<div class="t " style="top:651.89px;font-size:25px;line-height:25px;right:286.00px;">6</div>
<div class="t " style="top:607.41px;font-size:25px;line-height:25px;right:286.00px;">8</div>
<div class="t " style="top:804.36px;font-size:25px;line-height:25px;left:910.20px;transform:translateX(-50%);">10<span class="sp"><span class="sm" style="margin-right:2.35px">−</span>1</span></div>
<div class="t " style="top:804.36px;font-size:25px;line-height:25px;left:961.64px;transform:translateX(-50%);">10<span class="sp">0</span></div>
<div class="t " style="top:804.36px;font-size:25px;line-height:25px;left:1013.88px;transform:translateX(-50%);">10<span class="sp">1</span></div>
<div class="t " style="top:804.36px;font-size:25px;line-height:25px;left:1066.12px;transform:translateX(-50%);">10<span class="sp">2</span></div>
<div class="t " style="top:804.36px;font-size:25px;line-height:25px;left:1118.36px;transform:translateX(-50%);">10<span class="sp">3</span></div>
<div class="t " style="top:804.36px;font-size:25px;line-height:25px;left:1170.60px;transform:translateX(-50%);">10<span class="sp">4</span></div>
<div class="t " style="top:50.77px;font-size:18.3px;line-height:18.3px;left:162.00px;">h20</div>
<div class="t " style="top:68.57px;font-size:18.3px;line-height:18.3px;left:162.00px;">h26</div>
<div class="t " style="top:86.17px;font-size:18.3px;line-height:18.3px;left:162.00px;">h31</div>
<div class="t " style="top:104.07px;font-size:18.3px;line-height:18.3px;left:162.00px;">h38</div>
<div class="t " style="top:122.07px;font-size:18.3px;line-height:18.3px;left:162.00px;">h42</div>
<div class="t pl pl-a" style="top:5.95px;font-size:28px;line-height:28px;right:1141.80px;">(<i>a</i>)</div>
<div class="t pl pl-b" style="top:5.95px;font-size:28px;line-height:28px;right:747.70px;">(<i>b</i>)</div>
<div class="t pl pl-c" style="top:5.95px;font-size:28px;line-height:28px;right:346.20px;">(<i>c</i>)</div>
<div class="t pl pl-d" style="top:307.35px;font-size:28px;line-height:28px;right:1141.10px;">(<i>d</i>)</div>
<div class="t pl pl-e" style="top:307.35px;font-size:28px;line-height:28px;right:747.40px;">(<i>e</i>)</div>
<div class="t pl pl-f" style="top:307.35px;font-size:28px;line-height:28px;right:346.20px;">(<i>f</i>)</div>
<div class="t pl pl-g" style="top:601.95px;font-size:28px;line-height:28px;right:1141.60px;">(<i>g</i>)</div>
<div class="t pl pl-h" style="top:601.95px;font-size:28px;line-height:28px;right:747.40px;">(<i>h</i>)</div>
<div class="t pl pl-i" style="top:601.95px;font-size:28px;line-height:28px;right:346.20px;">(<i>i</i>)</div>
<div class="t e3" style="top:9.36px;font-size:25px;line-height:25px;left:114.30px;">(<span class="tx">×</span>10<span class="sp"><span class="sm" style="margin-right:1.15px">−</span>3</span>)</div>
<div class="t e3" style="top:9.36px;font-size:25px;line-height:25px;left:507.30px;">(<span class="tx">×</span>10<span class="sp"><span class="sm" style="margin-right:1.15px">−</span>3</span>)</div>
<div class="t e3" style="top:9.36px;font-size:25px;line-height:25px;left:921.40px;">(<span class="tx">×</span>10<span class="sp"><span class="sm" style="margin-right:1.15px">−</span>3</span>)</div>
<div class="t e3" style="top:311.76px;font-size:25px;line-height:25px;left:114.20px;">(<span class="tx">×</span>10<span class="sp"><span class="sm" style="margin-right:1.15px">−</span>3</span>)</div>
<div class="t e3" style="top:311.76px;font-size:25px;line-height:25px;left:507.30px;">(<span class="tx">×</span>10<span class="sp"><span class="sm" style="margin-right:1.15px">−</span>3</span>)</div>
<div class="t " style="top:257.06px;font-size:25px;line-height:25px;left:240.20px;transform:translateX(-50%);">Inlet</div>
<div class="t xc" style="top:257.36px;font-size:25px;line-height:25px;left:586.60px;"><i class="xx">x</i><span class="sl">/</span><i class="cc">C</i><span class="eq">=</span><span class="vv">0.1</span></div>
<div class="t xc" style="top:256.86px;font-size:25px;line-height:25px;left:984.00px;"><i class="xx">x</i><span class="sl">/</span><i class="cc">C</i><span class="eq">=</span><span class="vv">0.25</span></div>
<div class="t xc" style="top:567.56px;font-size:25px;line-height:25px;left:190.10px;"><i class="xx">x</i><span class="sl">/</span><i class="cc">C</i><span class="eq">=</span><span class="vv">0.5</span></div>
<div class="t xc" style="top:567.56px;font-size:25px;line-height:25px;left:586.80px;"><i class="xx">x</i><span class="sl">/</span><i class="cc">C</i><span class="eq">=</span><span class="vv">0.6</span></div>
<div class="t xc" style="top:567.56px;font-size:25px;line-height:25px;left:989.10px;"><i class="xx">x</i><span class="sl">/</span><i class="cc">C</i><span class="eq">=</span><span class="vv">0.7</span></div>
<div class="t xc" style="top:872.06px;font-size:25px;line-height:25px;left:198.10px;"><i class="xx">x</i><span class="sl">/</span><i class="cc">C</i><span class="eq">=</span><span class="vv">1</span></div>
<div class="t xc" style="top:872.06px;font-size:25px;line-height:25px;left:580.00px;"><i class="xx">x</i><span class="sl">/</span><i class="cc">C</i><span class="eq">=</span><span class="vv">1.33</span></div>
<div class="t xc" style="top:872.06px;font-size:25px;line-height:25px;left:990.10px;"><i class="xx">x</i><span class="sl">/</span><i class="cc">C</i><span class="eq">=</span><span class="vv">1.5</span></div>
<div class="t yp" style="top:837.46px;font-size:25px;line-height:25px;left:225.40px;"><i class="yy">y</i><span class="pls">+</span></div>
<div class="t yp" style="top:837.46px;font-size:25px;line-height:25px;left:622.60px;"><i class="yy">y</i><span class="pls">+</span></div>
<div class="t yp" style="top:833.76px;font-size:25px;line-height:25px;left:1025.00px;"><i class="yy">y</i><span class="pls">+</span></div>
<div class="t yl" style="left:29.88px;top:189.80px;font-size:30px;line-height:30px;"><span class="ymn">−</span><span class="ol"></span><i class="uv">uv</i><span class="ysl">/</span><i class="UU">U</i><span class="s2">2</span><i class="sr"><span class="r1">r</span><span class="e1">e</span><span class="f1">f</span></i></div>
<div class="t yl" style="left:28.27px;top:492.50px;font-size:30px;line-height:30px;"><span class="ymn">−</span><span class="ol"></span><i class="uv">uv</i><span class="ysl">/</span><i class="UU">U</i><span class="s2">2</span><i class="sr"><span class="r1">r</span><span class="e1">e</span><span class="f1">f</span></i></div>
<div class="t yl" style="left:11.17px;top:762.50px;font-size:30px;line-height:30px;"><span class="ymn">−</span><span class="ol"></span><i class="uv">uv</i><span class="ysl">/</span><i class="UU">U</i><span class="s2">2</span><i class="sr"><span class="r1">r</span><span class="e1">e</span><span class="f1">f</span></i></div>
</div>
</body></html>
